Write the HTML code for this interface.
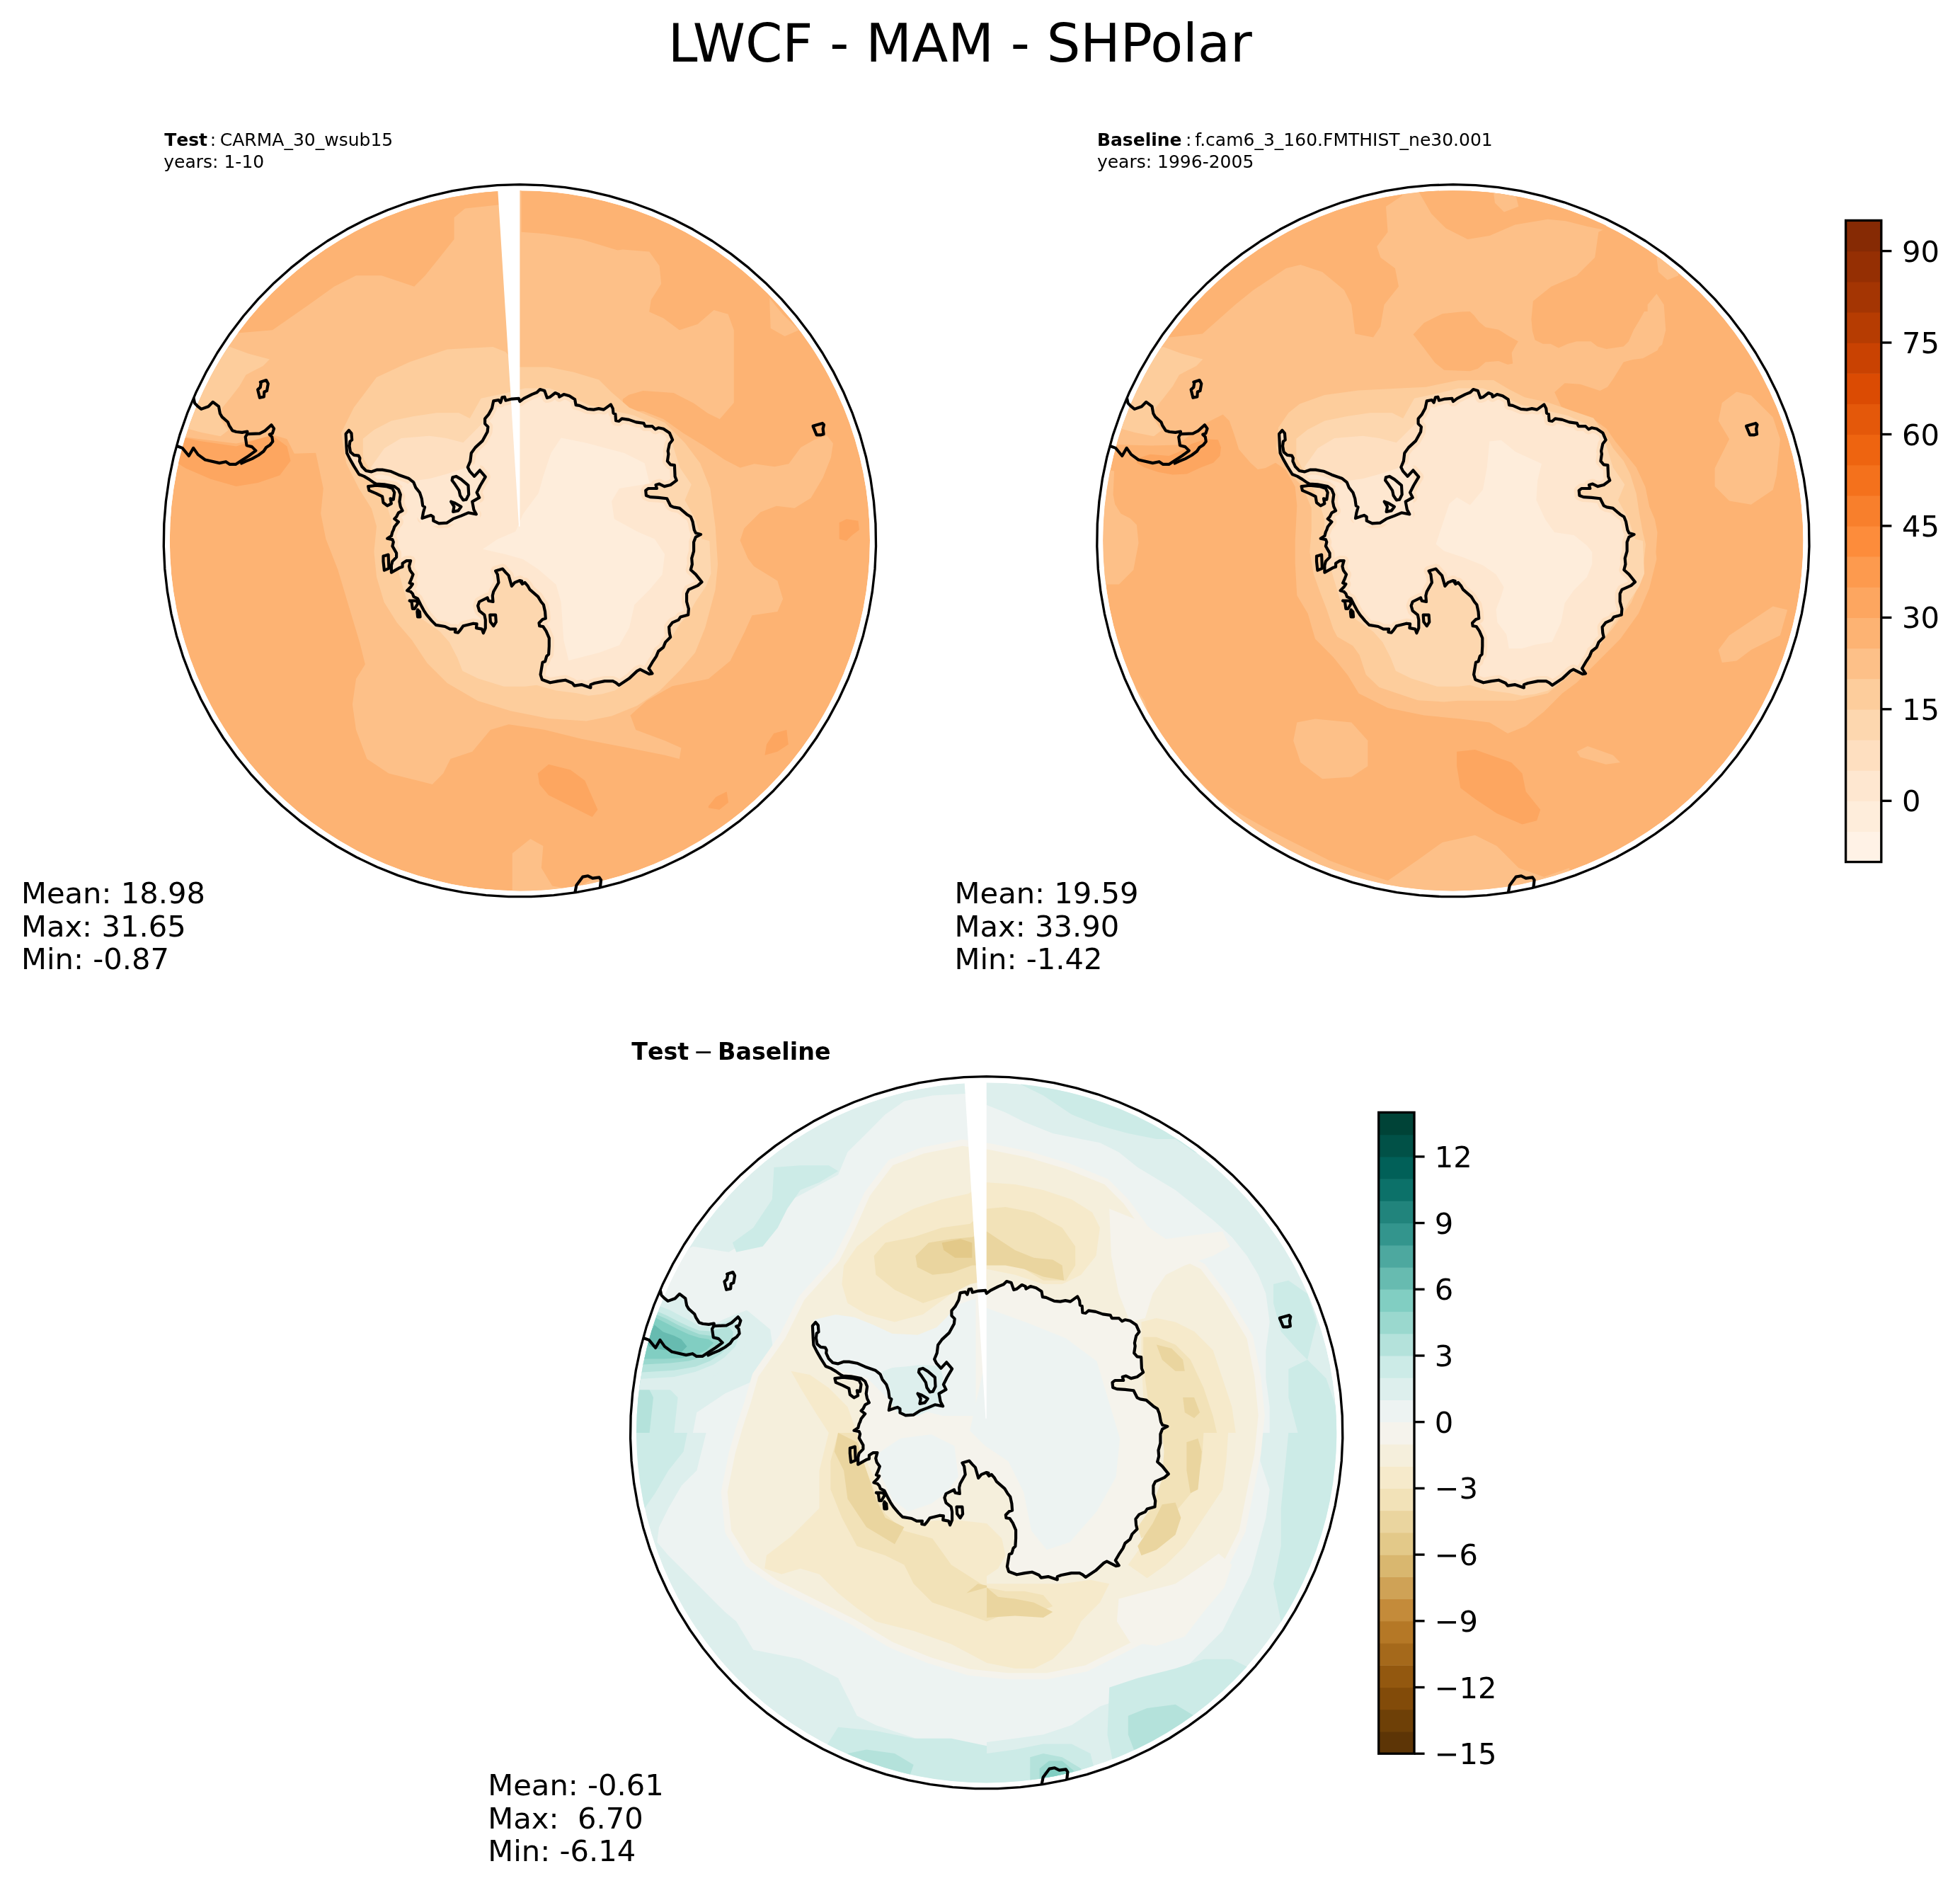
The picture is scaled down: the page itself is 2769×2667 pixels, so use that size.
<!DOCTYPE html>
<html><head><meta charset="utf-8"><title>LWCF - MAM - SHPolar</title>
<style>
html,body{margin:0;padding:0;background:#fff;width:2769px;height:2667px;overflow:hidden}
svg{display:block;will-change:transform}
text{font-family:"DejaVu Sans","Liberation Sans",sans-serif;fill:#000;white-space:pre}
.t18{font-size:75px}
.t10{font-size:41.67px}
.t6{font-size:25px}
.t8{font-size:33.33px}
.b{font-weight:bold}
.nk{font-kerning:none}
</style></head><body>
<svg width="2769" height="2667" viewBox="0 0 2769 2667">
<rect width="100%" height="100%" fill="#fff"/>
<text x="1356.3" y="87" class="t18" text-anchor="middle">LWCF - MAM - SHPolar</text>
<text x="232.2" y="206" class="t6 b nk">Test</text>
<text x="296.7" y="206" class="t6 nk">:</text>
<text x="310.8" y="206" class="t6">CARMA_30_wsub15</text>
<text x="231.3" y="237.1" class="t6">years: 1-10</text>
<text x="1549.9" y="206" class="t6 b nk">Baseline</text>
<text x="1675" y="206" class="t6 nk">:</text>
<text x="1688.2" y="206" class="t6">f.cam6_3_160.FMTHIST_ne30.001</text>
<text x="1549.9" y="237.1" class="t6">years: 1996-2005</text>
<text x="892.2" y="1497.3" class="t8 b nk">Test</text>
<text x="980" y="1497.3" class="t8 nk">−</text>
<text x="1014" y="1497.3" class="t8 b nk">Baseline</text>
<text x="30" y="1275.9" class="t10">Mean: 18.98</text>
<text x="30" y="1322.5" class="t10">Max: 31.65</text>
<text x="30" y="1369" class="t10">Min: -0.87</text>
<text x="1348.6" y="1275.9" class="t10">Mean: 19.59</text>
<text x="1348.6" y="1322.5" class="t10">Max: 33.90</text>
<text x="1348.6" y="1369" class="t10">Min: -1.42</text>
<text x="689.3" y="2535.9" class="t10">Mean: -0.61</text>
<text x="689.3" y="2582.5" class="t10">Max:  6.70</text>
<text x="689.3" y="2629" class="t10">Min: -6.14</text>
<clipPath id="clip1"><circle cx="734.4" cy="763.8" r="494.6"/></clipPath>
<clipPath id="clip1b"><path d="M734.4 260.6 L766.3 261.7 L798.1 264.7 L829.6 269.7 L860.8 276.8 L891.4 285.8 L921.4 296.7 L950.7 309.5 L979 324.1 L1006.4 340.5 L1032.7 358.6 L1057.8 378.4 L1081.6 399.7 L1104 422.4 L1124.9 446.5 L1144.3 471.9 L1161.9 498.5 L1177.9 526.2 L1192.1 554.8 L1204.4 584.2 L1214.9 614.4 L1223.4 645.2 L1229.9 676.4 L1234.4 708 L1237 739.9 L1237.5 771.8 L1236 803.7 L1232.4 835.4 L1226.9 866.8 L1219.4 897.9 L1209.9 928.4 L1198.5 958.2 L1185.2 987.2 L1170.1 1015.4 L1153.3 1042.5 L1134.8 1068.5 L1114.7 1093.3 L1093 1116.7 L1069.9 1138.8 L1045.4 1159.3 L1019.7 1178.2 L992.9 1195.5 L965 1211 L936.1 1224.7 L906.5 1236.6 L876.2 1246.6 L845.2 1254.6 L813.9 1260.6 L782.2 1264.7 L750.4 1266.7 L718.4 1266.7 L686.6 1264.7 L654.9 1260.6 L623.6 1254.6 L592.6 1246.6 L562.3 1236.6 L532.7 1224.7 L503.8 1211 L475.9 1195.5 L449.1 1178.2 L423.4 1159.3 L398.9 1138.8 L375.8 1116.7 L354.1 1093.3 L334 1068.5 L315.5 1042.5 L298.7 1015.4 L283.6 987.2 L270.3 958.2 L258.9 928.4 L249.4 897.9 L241.9 866.8 L236.4 835.4 L232.8 803.7 L231.3 771.8 L231.8 739.9 L234.4 708 L238.9 676.4 L245.4 645.2 L253.9 614.4 L264.4 584.2 L276.7 554.8 L290.9 526.2 L306.9 498.5 L324.5 471.9 L343.9 446.5 L364.8 422.4 L387.2 399.7 L411 378.4 L436.1 358.6 L462.4 340.5 L489.8 324.1 L518.1 309.5 L547.4 296.7 L577.4 285.8 L608 276.8 L639.2 269.7 L670.7 264.7 L702.5 261.7 L734.4 260.6Z"/></clipPath>
<g clip-path="url(#clip1)">
<circle cx="734.4" cy="763.8" r="494.6" fill="#fdb373"/>
<path d="M200.2 615.2 L246.4 615.2 L282.3 620.3 L333.7 626.4 L364.4 620.3 L385 614.1 L405.5 620.3 L415.8 640.8 L446.1 639.8 L456.8 690.1 L453.2 725.5 L460.4 761.4 L477.4 805.1 L492.8 856.4 L508.2 907.7 L515.9 938.5 L503 959 L497.9 995 L503 1030.9 L518.4 1072 L549.2 1092.5 L590.3 1102.8 L610.8 1107.9 L626.2 1092.5 L636.5 1072 L667.3 1061.7 L692.9 1030.9 L718.6 1023.2 L769.9 1030.9 L821.3 1043.7 L888 1056.6 L939.3 1066.8 L959.8 1072 L962.4 1056.6 L939.3 1046.3 L898.2 1030.9 L890.5 1010.4 L913.6 989.8 L949.6 969.3 L1000.9 959 L1031.7 933.4 L1052.2 892.3 L1062.5 869.2 L1098.4 864.1 L1106.1 846.1 L1098.4 820.5 L1065.1 799.9 L1056.8 789.2 L1045.6 763.5 L1051.2 746.6 L1074.3 723.5 L1096.9 714.7 L1122.5 717.8 L1145.6 703.4 L1162.6 674.7 L1173.9 646.5 L1177 626.4 L1168.2 615.2 L1151.3 620.8 L1131.3 632.1 L1114.3 655.2 L1094.3 659.3 L1065.6 655.2 L1045.6 660.8 L1023 649 L994.2 629.5 L965.5 612.1 L937.3 592.1 L908.5 580.8 L879.8 580.8 L879.8 563.8 L888.5 557.7 L908.5 552 L951.6 555.1 L979.9 569.5 L999.9 583.8 L1016.8 592.1 L1036.8 569 L1036.8 518.1 L1036.8 466.3 L1028.6 443.7 L1008.6 438.1 L985.5 458.1 L959.8 466.3 L937.3 449.4 L917.2 440.6 L919.8 423.7 L934.2 401.1 L931.6 375.5 L917.2 355.4 L879.8 352.4 L872.6 353.4 L821.3 338 L769.9 330.3 L736.6 327.7 L736.6 230.2 L200.2 230.2Z" fill="#fdc088"/>
<path d="M323.4 471.4 L385 466.3 L436.3 430.4 L472.2 404.7 L503 389.3 L539 389.3 L585.2 404.7 L600.6 389.3 L621.1 363.7 L641.6 338 L641.6 307.2 L657 294.4 L682.7 291.8 L705.8 289.2 L705.8 230.2 L200.2 230.2 L200.2 471.4Z" fill="#fdb373"/>
<path d="M1087.1 421.1 L1105.6 443.7 L1128.7 466.3 L1108.7 475 L1088.7 463.7Z" fill="#fdc088"/>
<path d="M723.7 1205.4 L749.4 1184.9 L767.4 1195.1 L764.8 1225.9 L780.2 1251.6 L811 1256.7 L846.9 1236.2 L854.6 1267 L723.7 1272.1Z" fill="#fdc088"/>
<path d="M246.4 615.2 L282.3 622.9 L333.7 630.6 L364.4 620.3 L385 615.2 L405.5 630.6 L410.6 651.1 L395.2 671.6 L364.4 681.9 L333.7 687 L297.7 676.7 L261.8 661.3 L246.4 651.1Z" fill="#fda660"/>
<path d="M1185.7 738.3 L1195.9 733.2 L1212.4 735.8 L1213.9 748.6 L1203.6 756.3 L1195.9 764 L1185.7 761.4Z" fill="#fda660"/>
<path d="M759.7 1092.5 L775.1 1079.7 L805.9 1087.4 L826.4 1102.8 L844.4 1143.8 L836.7 1154.1 L816.1 1143.8 L775.1 1123.3 L762.2 1107.9Z" fill="#fda660"/>
<path d="M1083 1051.4 L1093.3 1036 L1111.3 1030.9 L1113.8 1051.4 L1098.4 1061.7 L1080.5 1066.8Z" fill="#fda660"/>
<path d="M1000.9 1138.7 L1011.2 1125.9 L1026.6 1118.2 L1029.1 1133.6 L1016.3 1143.8 L1000.9 1141.3Z" fill="#fda660"/>
<path d="M264.9 605.4 L284.9 611 L311.6 616.2 L322.3 608 L311.6 592.1 L314.1 576.1 L324.9 562.8 L338.3 545.4 L347.5 529.4 L358.3 523.8 L371.6 517.1 L380.9 507.4 L351.6 499.7 L324.9 489.9 L298.2 500.7 L271.5 527.4 L258.2 554.1 L247.4 594.1Z" fill="#fdcd9c"/>
<path d="M482 611.4 L499.9 575.7 L532 532.9 L578.4 511.4 L632 493.6 L696.3 490 L714.1 497.1 L733.8 518.6 L774.9 518.6 L810.6 525.7 L846.3 536.4 L864.1 554.3 L889.1 575.7 L939.1 597.1 L967.7 625.7 L989.1 654.3 L1003.4 690 L1010.6 743.6 L1014.1 797.1 L1010.6 832.9 L996.3 886.4 L982 922.1 L960.6 947.1 L932 975.7 L899.9 997.1 L864.1 1011.4 L828.4 1018.6 L774.9 1015 L721.3 1004.3 L674.9 990 L632 965 L603.4 936.4 L582 904.3 L560.6 879.3 L542.7 850.7 L532 815 L528.4 779.3 L532 743.6 L524.9 718.6 L507 690 L489.1 654.3Z" fill="#fdcd9c"/>
<path d="M512.8 619.8 L528.7 606.9 L552.8 594.6 L584.6 588 L616.5 583.3 L648.3 583.3 L663.7 591 L679.6 562.8 L711.4 556.1 L741.7 548.4 L776.6 548.4 L804.3 559.2 L831.5 572 L864.9 579.7 L896.2 586.9 L924.4 599.8 L949 623.9 L960.3 660.3 L976.8 684.4 L967.5 706.5 L982.4 733.7 L991.6 761.4 L1002.4 764 L1004.5 810.2 L997.3 828.2 L982.4 850.2 L973.2 866.7 L960.3 881.5 L951.1 896.4 L941.9 910.8 L923.4 929.3 L905.4 947.8 L886.9 962.6 L868.5 975.5 L850 980.6 L831.5 982.7 L813.5 979.1 L785.8 975.5 L758.1 967.8 L741.7 969.8 L711.9 969.8 L675.5 958.5 L653.4 947.8 L646.2 929.3 L634.9 907.2 L621.6 892.3 L596.4 874.4 L574.4 846.6 L565.1 815.3 L555.9 782.5 L552.3 764 L552.8 734.2 L543.1 702.4 L526.6 671.6 L512.8 646Z" fill="#fdd7af"/>
<path d="M523.9 660.3 L543 633.3 L566.8 619 L606.6 615.8 L630.4 619 L654.2 625.3 L670.1 609.5 L682.8 596.7 L697.1 582.4 L717.8 574.5 L741.6 568.1 L771.5 565 L771.5 688.9 L678.1 688.9 L598.6 736.6 L574.8 736.6 L566.8 704.8 L551 681Z" fill="#fedfc0"/>
<path d="M492.9 607.9 L496.5 612.1 L497.2 621.4 L494.4 623.6 L493.6 630 L495.1 638.6 L500.1 642.9 L506.5 643.6 L508.4 647.1 L507.9 651.4 L511.5 659.3 L517.2 665 L524.4 666.4 L532.9 663.6 L540.1 663.6 L551.5 665.7 L562.9 670.7 L577.2 675.7 L584.4 681.4 L587.2 688.6 L592.9 695.7 L595.8 704.3 L597.2 714.3 L600.1 716.4 L597.9 724.3 L596.5 732.1 L604.4 729.3 L608.6 727.9 L612.2 730 L612.2 735.7 L620.1 739.3 L631.5 738.6 L640.1 732.9 L651.5 728.6 L661.5 724.3 L672.9 726.4 L669.4 720 L667.2 708.6 L677.2 702.9 L673.6 695.7 L678.6 685.7 L685.8 673.6 L677.9 664.3 L670.1 672.9 L663.6 665.7 L660.8 660 L664.4 651.4 L665.8 640 L671.5 632.1 L681.5 622.9 L688.6 610 L689.4 602.9 L685.1 598.6 L685.1 591.4 L690.1 585.7 L695.1 576.4 L697.2 566.4 L704.4 565 L707.2 568.6 L709.4 561.4 L712.9 560.7 L714.4 565.7 L722.9 563.6 L732.9 562.9 L734.4 567.1 L740.1 562.9 L751.5 557.1 L758.6 554.3 L762.9 550 L769.4 552.1 L772.9 562.1 L777.2 560.7 L784.4 555 L789.4 557.1 L790.1 560.7 L796.5 557.1 L804.4 559.3 L812.2 564.3 L813.6 572.1 L818.6 572.9 L830.1 577.9 L838.6 578.6 L845.8 577.1 L852.9 578.6 L862.9 571.4 L865.8 577.1 L866.5 583.6 L869.4 585 L870.1 594.3 L874.4 595 L878.6 591.4 L888.6 592.9 L898.6 596.4 L909.4 597.9 L911.5 602.1 L921.5 602.1 L925.8 606.4 L930.1 604.3 L937.2 605.7 L945.8 611.4 L950.1 621.4 L945.8 627.1 L943.6 637.1 L944.4 641.4 L942.9 651.4 L947.2 656.4 L952.9 657.1 L953.6 672.9 L955.8 678.6 L947.2 685 L938.6 687.1 L931.5 683.6 L926.5 685 L927.9 690 L915.8 690 L912.2 692.9 L912.9 700 L918.6 702.1 L930.1 702.9 L942.2 704.3 L947.2 714.3 L951.5 716.4 L960.1 717.9 L970.1 726.4 L975.8 730 L978.6 737.1 L980.8 748.6 L982.9 752.9 L990.1 755 L990.1 755 L982.9 758.6 L980.1 765.7 L980.1 778.6 L977.2 788.6 L977.9 797.1 L975.8 805 L982.9 811.4 L991.5 822.1 L985.8 827.1 L972.9 832.9 L970.1 838.6 L970.1 850 L972.9 860 L972.2 868.6 L961.5 871.4 L958.6 875.7 L950.1 879.3 L945.1 885.7 L945.8 894.3 L947.2 900 L940.1 907.1 L937.2 914.3 L930.1 920 L927.2 927.1 L921.5 935.7 L916.5 944.3 L921.5 951.4 L917.2 952.1 L904.4 945.7 L900.1 947.9 L888.6 958.6 L874.4 967.9 L870.1 964.3 L865.8 962.1 L854.4 962.1 L840.1 965 L834.4 967.1 L834.4 971.4 L821.5 967.1 L811.5 968.6 L808.6 965 L798.6 960.7 L788.6 962.1 L777.2 964.3 L765.8 960 L763.6 952.9 L766.5 935.7 L770.1 934.3 L772.2 927.1 L775.1 924.3 L775.8 912.9 L775.8 901.4 L771.5 891.4 L767.2 885 L762.2 884.3 L761.5 880 L766.5 875 L770.8 873.6 L770.1 864.3 L767.9 854.3 L764.4 850 L760.1 842.9 L748.6 832.9 L745.8 827.9 L741.5 822.9 L737.9 825 L734.4 820 L737.2 820.7 L734.4 820 L727.2 822.9 L722.9 827.9 L718.6 812.9 L714.4 808.6 L710.1 803.6 L700.1 806.4 L702.9 811.4 L703.6 817.1 L704.4 822.9 L697.2 835.7 L695.8 841.4 L696.5 850 L690.1 848.6 L688.6 844.3 L677.2 850 L675.1 855.7 L677.2 862.9 L684.4 868.6 L685.8 875.7 L685.8 887.1 L682.9 894.3 L680.8 888.6 L672.9 887.1 L673.6 881.4 L668.6 880.7 L654.4 884.3 L650.8 889.3 L647.2 893.6 L642.9 892.9 L643.6 888.6 L635.8 888.6 L628.6 885 L615.8 882.9 L610.1 877.1 L602.9 868.6 L598.6 862.1 L594.4 854.3 L590.1 845.7 L584.4 842.9 L582.9 838.6 L580.1 835.7 L575.1 834.3 L580.1 829.3 L582.9 825 L578.6 823.6 L581.5 817.1 L583.6 811.4 L579.4 805.7 L577.9 800 L580.1 792.1 L574.4 792.1 L568.6 795.7 L568.6 800.7 L564.4 802.1 L552.9 808.6 L552.9 798.6 L554.4 792.9 L560.1 787.1 L560.1 781.4 L554.4 771.4 L555.8 765.7 L554.4 762.1 L547.2 760.7 L552.9 757.1 L554.4 751.4 L555.8 748.6 L557.2 744.3 L562.9 737.1 L557.2 732.9 L560.1 730 L562.9 724.3 L568.6 721.4 L565.8 715.7 L564.4 708.6 L565.8 698.6 L562.9 691.4 L557.2 687.1 L542.9 684.3 L531.5 683.6 L528.6 682.1 L521.5 677.1 L514.4 672.9 L507.2 670 L500.1 658.6 L494.4 648.6 L490.1 640 L489.4 630 L488.6 612.9 L492.9 607.9Z" fill="#fedfc0"/>
<path d="M527.5 672.8 L532.2 676.1 L533.4 676.7 L543.4 677.3 L544.3 677.4 L558.6 680.3 L559.2 680.4 L559.8 680.6 L560.4 680.9 L560.9 681.2 L561.4 681.5 L567.1 685.8 L567.6 686.2 L568.1 686.7 L568.5 687.2 L568.8 687.7 L569.2 688.2 L569.4 688.8 L572.3 696 L572.5 696.7 L572.7 697.4 L572.8 698.1 L572.8 698.8 L572.7 699.6 L571.5 708.4 L572.5 713.4 L574.9 718.3 L575.2 718.9 L575.4 719.6 L575.5 720.3 L575.6 720.9 L575.6 721.6 L575.6 722.3 L575.5 723 L575.3 723.6 L575 724.3 L574.7 724.9 L574.4 725.5 L573.9 726 L573.5 726.5 L572.9 727 L572.4 727.4 L571.8 727.7 L568.1 729.5 L567.1 731.5 L567.1 731.5 L567.7 732 L568.2 732.5 L568.6 733 L569 733.6 L569.3 734.2 L569.6 734.9 L569.7 735.6 L569.9 736.3 L569.9 737 L569.9 737.7 L569.8 738.4 L569.7 739 L569.4 739.7 L569.2 740.3 L568.8 740.9 L568.4 741.5 L563.5 747.7 L562.4 750.8 L562 751.7 L561 753.9 L559.9 757.9 L560.2 758.3 L560.6 758.9 L560.9 759.5 L562.3 763.1 L562.5 763.8 L562.7 764.5 L562.8 765.2 L562.8 766 L562.7 766.7 L562.6 767.4 L561.8 770.4 L566.1 778 L566.5 778.6 L566.7 779.3 L566.9 780 L567 780.7 L567.1 781.4 L567.1 787.1 L567 787.8 L566.9 788.5 L566.9 788.5 L570.6 786.2 L571.2 785.9 L571.8 785.6 L572.4 785.4 L573.1 785.3 L573.7 785.2 L574.4 785.1 L580.1 785.1 L580.7 785.2 L581.4 785.3 L582.1 785.4 L582.7 785.7 L583.3 785.9 L583.9 786.3 L584.5 786.7 L585 787.1 L585.4 787.6 L585.8 788.2 L586.2 788.7 L586.5 789.3 L586.7 790 L586.9 790.6 L587 791.3 L587.1 792 L587.1 792.7 L587 793.3 L586.8 794 L585.2 800.1 L585.8 802.6 L589.2 807.2 L589.6 807.8 L590 808.4 L590.2 809.1 L590.4 809.7 L590.6 810.4 L590.6 811.1 L590.6 811.8 L590.6 812.5 L590.4 813.2 L590.2 813.9 L588.1 819.6 L587.9 820 L587.9 820 L588 820.1 L588.4 820.7 L588.8 821.2 L589.2 821.8 L589.4 822.4 L589.7 823.1 L589.8 823.7 L589.9 824.4 L589.9 825.1 L589.9 825.7 L589.8 826.4 L589.6 827.1 L589.4 827.7 L589.1 828.3 L588.8 828.9 L586.5 832.3 L587.9 833.6 L588.3 834.1 L588.7 834.6 L589 835.2 L589.3 835.8 L589.6 836.4 L590.1 837.9 L593.2 839.5 L593.8 839.8 L594.3 840.1 L594.8 840.5 L595.2 841 L595.7 841.5 L596 842 L596.3 842.6 L600.6 851 L604.6 858.5 L608.5 864.4 L615.2 872.4 L619.1 876.3 L629.8 878.1 L630.5 878.2 L631.1 878.5 L631.8 878.7 L637.4 881.6 L643.6 881.6 L644.3 881.6 L645 881.7 L645.6 881.9 L646.3 882.1 L646.9 882.4 L647.1 882.5 L648.7 880.2 L649.1 879.7 L649.6 879.2 L650.1 878.7 L650.7 878.3 L651.3 878 L652 877.7 L652.7 877.5 L666.9 873.9 L667.6 873.8 L668.3 873.7 L669 873.7 L669.6 873.8 L674.6 874.5 L675.3 874.6 L676 874.8 L676.6 875.1 L677.2 875.4 L677.8 875.8 L678.3 876.2 L678.8 876.7 L678.8 876.7 L678.8 876.4 L678 872.4 L672.8 868.3 L672.3 867.9 L671.8 867.3 L671.4 866.8 L671 866.2 L670.7 865.5 L670.5 864.9 L668.4 857.7 L668.2 857.1 L668.1 856.5 L668.1 855.8 L668.1 855.2 L668.2 854.5 L668.3 853.9 L668.5 853.3 L670.7 847.5 L670.9 846.9 L671.2 846.4 L671.6 845.8 L672 845.3 L672.5 844.9 L673 844.4 L673.5 844.1 L674.1 843.7 L685.5 838 L686.2 837.7 L686.8 837.5 L687.5 837.4 L688.2 837.3 L688.9 837.3 L689.6 837.4 L690.4 834 L690.6 833.4 L690.8 832.9 L691.1 832.3 L697.1 821.5 L696.7 818 L696.2 813.7 L694 809.9 L693.7 809.3 L693.4 808.6 L693.2 807.9 L693.1 807.2 L693.1 806.5 L693.1 805.8 L693.2 805.1 L693.4 804.5 L693.6 803.8 L693.9 803.2 L694.2 802.5 L694.7 802 L695.1 801.5 L695.7 801 L696.2 800.6 L696.8 800.2 L697.5 799.9 L698.1 799.7 L708.1 796.8 L708.8 796.7 L709.5 796.6 L710.1 796.6 L710.8 796.6 L711.4 796.7 L712.1 796.9 L712.7 797.1 L713.3 797.4 L713.9 797.7 L714.4 798.1 L714.9 798.5 L715.4 799 L719.5 803.8 L723.6 807.9 L724.1 808.4 L724.5 809 L724.8 809.6 L725.1 810.3 L725.4 810.9 L726.7 815.5 L731.8 813.5 L732.4 813.3 L733 813.1 L733.7 813 L734.4 813 L735 813 L735.7 813.1 L736.3 813.3 L737 813.5 L737.6 813.8 L738.1 814.1 L738.7 814.5 L739.2 814.9 L739.6 815.4 L740.1 815.9 L740.1 816 L740.5 815.9 L741.2 815.9 L741.9 815.9 L742.6 815.9 L743.3 816.1 L744 816.3 L744.6 816.6 L745.2 816.9 L745.8 817.3 L746.3 817.8 L746.8 818.3 L751.1 823.3 L751.5 823.8 L751.9 824.4 L754.1 828.4 L764.7 837.6 L765.2 838.1 L765.7 838.7 L766.1 839.3 L770.1 845.9 L773.3 849.8 L773.7 850.3 L774.1 850.9 L774.4 851.5 L774.6 852.2 L774.8 852.8 L776.9 862.8 L777.1 863.7 L777.8 873 L777.8 873.7 L777.7 874.4 L777.6 875 L777.5 875.7 L777.2 876.3 L777 876.9 L776.6 877.4 L776.2 878 L775.8 878.5 L775.3 878.9 L774.8 879.3 L774.2 879.7 L773.6 880 L773 880.2 L772.5 880.4 L772.7 880.6 L773 881.1 L777.3 887.5 L777.7 888.1 L777.9 888.7 L782.2 898.7 L782.5 899.3 L782.6 900 L782.7 900.7 L782.8 901.4 L782.8 912.9 L782.8 913.3 L782.1 924.7 L782 925.4 L781.8 926.1 L781.6 926.8 L781.3 927.5 L780.9 928.1 L780.5 928.7 L780 929.2 L778.4 930.8 L776.8 936.3 L776.5 937 L776.2 937.6 L775.9 938.2 L775.5 938.7 L775 939.3 L774.5 939.7 L773.9 940.1 L773.3 940.5 L772.8 940.7 L770.8 952.4 L771.5 954.7 L777.8 957 L787.4 955.3 L787.7 955.2 L797.7 953.8 L798.3 953.7 L798.9 953.7 L799.6 953.8 L800.2 953.9 L800.8 954.1 L801.4 954.3 L811.4 958.6 L812 958.9 L812.6 959.2 L813.2 959.6 L813.7 960.1 L814.1 960.6 L814.5 961.1 L820.5 960.2 L821.2 960.2 L821.8 960.1 L822.5 960.2 L823.1 960.3 L823.7 960.5 L829.3 962.4 L829.5 962.1 L830.1 961.6 L830.6 961.2 L831.3 960.9 L831.9 960.6 L837.6 958.4 L838.1 958.3 L838.7 958.1 L853 955.3 L853.7 955.2 L854.4 955.1 L865.8 955.1 L866.4 955.2 L867.1 955.3 L867.7 955.4 L868.3 955.6 L868.9 955.9 L873.2 958 L873.9 958.4 L874.6 958.9 L874.9 959.2 L884.3 953 L895.3 942.8 L895.8 942.3 L896.4 941.9 L896.9 941.6 L901.2 939.5 L901.9 939.2 L902.6 938.9 L903.3 938.8 L904 938.7 L904.7 938.7 L905.4 938.8 L906.1 938.9 L906.8 939.2 L907.5 939.5 L910.4 940.9 L910.5 940.8 L915.5 932.2 L915.7 931.8 L921 923.9 L923.6 917.4 L923.9 916.7 L924.2 916.1 L924.7 915.5 L925.2 915 L925.7 914.5 L931.4 910 L933.6 904.5 L933.9 903.9 L934.2 903.3 L934.6 902.7 L935.1 902.2 L939.5 897.9 L939 896 L938.9 895.4 L938.8 894.9 L938.1 886.3 L938.1 885.6 L938.1 885 L938.2 884.4 L938.4 883.7 L938.6 883.1 L938.8 882.5 L939.2 881.9 L939.5 881.4 L944.5 875 L945 874.4 L945.5 873.9 L946.1 873.5 L946.7 873.1 L947.4 872.8 L954 870.1 L955.7 867.5 L956.1 867 L956.6 866.4 L957.1 866 L957.7 865.5 L958.3 865.2 L959 864.9 L959.7 864.7 L965.6 863.1 L965.8 860.7 L963.3 851.9 L963.2 851.3 L963.1 850.6 L963.1 850 L963.1 838.6 L963.1 837.9 L963.2 837.3 L963.3 836.6 L963.5 836 L963.8 835.4 L966.7 829.7 L967 829.1 L967.4 828.6 L967.8 828 L968.3 827.6 L968.9 827.1 L969.5 826.8 L970.1 826.5 L981.8 821.2 L977.8 816.2 L971.1 810.2 L970.6 809.7 L970.2 809.2 L969.8 808.6 L969.4 808 L969.2 807.3 L969 806.6 L968.8 805.9 L968.8 805.2 L968.8 804.5 L968.9 803.8 L969 803.2 L970.9 796.5 L970.2 789.2 L970.2 788.5 L970.2 787.9 L970.3 787.3 L970.5 786.6 L973.1 777.6 L973.1 765.7 L973.1 765 L973.2 764.4 L973.4 763.7 L973.6 763.1 L976.4 756 L976.5 755.7 L974.5 751.7 L974.3 751.1 L974.1 750.5 L973.9 749.9 L971.9 739.1 L970.1 734.7 L966.4 732.4 L965.9 732.1 L965.5 731.7 L957 724.4 L950.3 723.3 L949.7 723.2 L949 723 L948.4 722.7 L944.1 720.5 L943.5 720.2 L943 719.9 L942.5 719.5 L942 719 L941.6 718.5 L941.3 718 L941 717.4 L937.6 710.8 L929.4 709.8 L918.2 709.1 L917.5 709.1 L916.8 708.9 L916.2 708.7 L910.5 706.6 L909.8 706.3 L909.2 705.9 L908.6 705.5 L908.1 705.1 L907.6 704.5 L907.2 704 L906.8 703.4 L906.5 702.7 L906.2 702.1 L906.1 701.4 L906 700.7 L905.2 693.6 L905.2 692.9 L905.2 692.2 L905.4 691.5 L905.5 690.8 L905.8 690.1 L906.1 689.5 L906.4 688.9 L906.8 688.4 L907.3 687.9 L907.8 687.4 L911.4 684.5 L912 684.1 L912.5 683.8 L913.2 683.5 L913.8 683.3 L914.4 683.1 L915.1 683 L915.8 683 L919.8 683 L919.8 682.9 L920.1 682.2 L920.4 681.6 L920.7 681 L921.2 680.5 L921.6 680 L922.1 679.5 L922.7 679.1 L923.3 678.8 L923.9 678.5 L924.6 678.3 L929.6 676.8 L930.2 676.7 L930.9 676.6 L931.5 676.6 L932.1 676.6 L932.8 676.7 L933.4 676.8 L934 677 L934.6 677.3 L939.5 679.7 L944.1 678.6 L947.4 676.1 L947.1 675.3 L946.9 674.6 L946.7 673.9 L946.7 673.2 L946.2 663.3 L945.7 663.3 L945.1 663.1 L944.5 662.9 L943.9 662.6 L943.3 662.3 L942.8 661.9 L942.3 661.5 L941.9 661 L937.6 656 L937.2 655.5 L936.9 654.9 L936.6 654.3 L936.3 653.7 L936.1 653.1 L936 652.4 L935.9 651.8 L935.9 651.1 L936 650.4 L937.3 641.5 L936.7 638.3 L936.7 637.6 L936.6 637 L936.7 636.3 L936.8 635.7 L938.9 625.7 L939.1 624.9 L939.4 624.2 L939.8 623.6 L940.2 622.9 L942 620.5 L940.2 616.1 L934.5 612.3 L931.1 611.6 L928.9 612.7 L928.3 613 L927.7 613.2 L927 613.3 L926.3 613.4 L925.7 613.4 L925 613.4 L924.3 613.3 L923.7 613.1 L923.1 612.9 L922.4 612.6 L921.9 612.2 L921.3 611.8 L920.8 611.4 L918.6 609.1 L911.5 609.1 L910.8 609.1 L910.1 609 L909.4 608.8 L908.8 608.6 L908.1 608.3 L907.5 607.9 L907 607.5 L906.5 607 L906 606.5 L905.6 605.9 L905.2 605.3 L904.8 604.3 L897.7 603.4 L897 603.2 L896.3 603 L887 599.7 L880.7 598.8 L878.8 600.4 L878.3 600.8 L877.7 601.1 L877.1 601.4 L876.5 601.7 L875.9 601.8 L875.2 601.9 L874.5 602 L873.9 602 L873.2 601.9 L868.9 601.2 L868.3 601.1 L867.6 600.8 L867 600.6 L866.4 600.3 L865.9 599.9 L865.4 599.5 L864.9 599 L864.5 598.5 L864.1 598 L863.8 597.4 L863.5 596.8 L863.3 596.1 L863.2 595.5 L863.1 594.8 L862.7 589.4 L862.2 589.1 L861.7 588.6 L861.2 588.1 L860.8 587.6 L860.4 587 L860.1 586.4 L859.8 585.7 L859.7 585 L859.5 584.3 L859.3 582.6 L857 584.3 L856.4 584.7 L855.8 585 L855.1 585.2 L854.4 585.4 L853.7 585.5 L853 585.6 L852.3 585.5 L851.6 585.4 L845.8 584.3 L840 585.4 L839.4 585.5 L838.7 585.6 L838.1 585.5 L829.5 584.8 L828.7 584.7 L828 584.5 L827.3 584.3 L816.7 579.7 L812.7 579.1 L812 578.9 L811.3 578.8 L810.7 578.5 L810.1 578.2 L809.6 577.8 L809 577.4 L808.6 576.9 L808.1 576.4 L807.7 575.9 L807.4 575.3 L807.1 574.7 L806.9 574 L806.8 573.4 L805.9 568.5 L801.5 565.8 L797.4 564.6 L793.5 566.8 L792.8 567.1 L792.2 567.4 L791.5 567.6 L790.8 567.7 L790.2 567.7 L789.5 567.7 L788.8 567.6 L788.1 567.4 L787.5 567.2 L786.8 566.9 L786.2 566.6 L785.7 566.2 L785.2 565.7 L784.7 565.2 L784.3 564.6 L784 564.2 L781.6 566.2 L781.1 566.5 L780.6 566.9 L780 567.1 L779.4 567.4 L775.1 568.8 L774.5 569 L773.8 569.1 L773.1 569.1 L772.5 569.1 L771.8 569.1 L771.1 568.9 L770.5 568.7 L769.9 568.4 L769.3 568.1 L768.7 567.7 L768.2 567.3 L767.7 566.8 L767.3 566.3 L766.9 565.7 L766.6 565.1 L766.3 564.5 L764.2 558.6 L763.6 559.2 L763.1 559.7 L762.5 560.1 L761.9 560.5 L761.2 560.8 L754.4 563.5 L743.8 568.8 L738.6 572.7 L738 573.1 L737.4 573.5 L736.7 573.7 L736.1 573.9 L735.4 574.1 L734.7 574.1 L734 574.1 L733.3 574.1 L732.6 573.9 L731.9 573.7 L731.3 573.4 L730.7 573.1 L730.1 572.7 L729.6 572.3 L729.1 571.8 L728.7 571.2 L728.3 570.6 L728.1 570.2 L724 570.5 L716.1 572.5 L715.4 572.6 L714.7 572.7 L714.1 572.7 L713.4 572.6 L713 572.6 L712.6 573 L712.2 573.5 L711.6 574 L711.1 574.4 L710.5 574.8 L709.9 575 L709.2 575.3 L708.5 575.4 L707.9 575.5 L707.2 575.6 L706.5 575.5 L705.8 575.4 L705.1 575.3 L704.5 575 L703.9 574.7 L703.3 574.4 L702.8 574 L701.9 577.9 L701.7 578.5 L701.5 579.2 L701.2 579.7 L696.2 589 L695.8 589.7 L695.3 590.3 L692.1 594.1 L692.1 595.7 L694.3 597.9 L694.8 598.4 L695.2 599 L695.5 599.6 L695.8 600.2 L696.1 600.8 L696.2 601.5 L696.3 602.2 L696.4 602.9 L696.3 603.6 L695.6 610.7 L695.5 611.4 L695.3 612.1 L695.1 612.8 L694.8 613.4 L687.6 626.3 L687.2 626.9 L686.8 627.5 L686.3 628 L676.8 636.8 L672.5 642.7 L671.3 652.3 L671.2 652.9 L671 653.5 L670.8 654.1 L668.5 659.7 L669.5 661.7 L670.1 662.4 L672.8 659.6 L673.3 659.1 L673.8 658.6 L674.4 658.2 L675 657.9 L675.7 657.7 L676.3 657.5 L677 657.3 L677.7 657.3 L678.4 657.3 L679.1 657.4 L679.8 657.5 L680.5 657.8 L681.1 658 L681.7 658.4 L682.3 658.8 L682.8 659.3 L683.3 659.8 L691.1 669 L691.5 669.6 L691.9 670.1 L692.2 670.7 L692.4 671.4 L692.6 672 L692.7 672.6 L692.8 673.3 L692.8 674 L692.7 674.6 L692.6 675.3 L692.4 675.9 L692.1 676.5 L691.8 677.1 L684.8 689.1 L681.5 695.7 L683.5 699.7 L683.8 700.4 L684 701 L684.1 701.7 L684.2 702.4 L684.2 703.1 L684.1 703.9 L684 704.5 L683.8 705.2 L683.5 705.9 L683.2 706.5 L682.8 707.1 L682.3 707.6 L681.8 708.1 L681.3 708.6 L680.7 708.9 L675 712.2 L676 717.6 L679 723 L679.4 723.6 L679.6 724.3 L679.8 725 L679.9 725.6 L679.9 726.3 L679.9 727 L679.8 727.7 L679.7 728.4 L679.4 729 L679.1 729.6 L678.8 730.2 L678.4 730.8 L677.9 731.3 L677.4 731.8 L676.9 732.2 L676.3 732.6 L675.7 732.9 L675 733.1 L674.4 733.3 L673.7 733.4 L673 733.4 L672.3 733.4 L671.6 733.3 L662.3 731.6 L654.3 735 L654 735.1 L643.3 739.1 L635.4 744.4 L634.8 744.8 L634.1 745.1 L633.4 745.3 L632.7 745.5 L631.9 745.6 L620.5 746.3 L619.8 746.3 L619.1 746.2 L618.5 746.1 L617.8 745.9 L617.2 745.7 L609.3 742.1 L608.7 741.8 L608.2 741.4 L607.6 741 L607.2 740.6 L606.7 740 L606.3 739.5 L606 738.9 L605.7 738.3 L605.5 737.7 L605.3 737 L605.3 736.4 L598.9 738.7 L598.2 738.9 L597.5 739.1 L596.8 739.1 L596.1 739.1 L595.4 739.1 L594.8 738.9 L594.1 738.7 L593.4 738.4 L592.8 738.1 L592.3 737.7 L591.7 737.3 L591.2 736.8 L590.8 736.2 L590.4 735.6 L590.1 735 L589.9 734.3 L589.7 733.7 L589.6 733 L589.5 732.3 L589.5 731.6 L589.6 730.9 L591 723 L591.2 722.4 L592.1 719.1 L592 719 L591.6 718.4 L591.2 717.9 L590.9 717.2 L590.6 716.6 L590.4 716 L590.3 715.3 L588.9 705.9 L586.7 699.1 L581.7 692.9 L581.3 692.4 L581 691.8 L580.7 691.2 L578.5 685.7 L573.8 681.9 L560.6 677.3 L560.1 677.1 L549.4 672.4 L539.4 670.6 L534.1 670.6 L527.5 672.8Z" fill="#fee7d0"/>
<path d="M561.7 795.5 L561.2 795.9 L561.5 795.7 L561.6 795.7 L561.7 795.5Z" fill="#fee7d0"/>
<path d="M566.8 688.9 L582.7 679.4 L606.6 676.2 L630.4 669.8 L654.2 661.9 L670.1 655.5 L678.1 657.1 L678.1 736.6 L598.6 744.5 L582.7 720.7Z" fill="#fee7d0"/>
<path d="M792.7 618.6 L828.4 625.7 L882 640 L910.6 654.3 L917.7 682.9 L874.9 690 L864.1 707.9 L867.7 732.9 L899.9 750.7 L924.9 761.4 L939.1 782.9 L935.6 811.4 L917.7 832.9 L896.3 854.3 L889.1 886.4 L874.9 911.4 L846.3 922.1 L803.4 932.9 L796.3 904.3 L792.7 850.7 L785.6 825.7 L760.6 804.3 L739.1 790 L714.1 782.9 L682 775.7 L703.4 761.4 L728.4 750.7 L739.1 725.7 L760.6 697.1 L767.7 672.1 L778.4 640Z" fill="#feeddb"/>
</g>
<path d="M734.4 743.8 L734.4 264.8 L703.1 265.8 L733.1 743.8Z" fill="#fff"/>
<path d="M492.9 607.9 L496.5 612.1 L497.2 621.4 L494.4 623.6 L493.6 630 L495.1 638.6 L500.1 642.9 L506.5 643.6 L508.4 647.1 L507.9 651.4 L511.5 659.3 L517.2 665 L524.4 666.4 L532.9 663.6 L540.1 663.6 L551.5 665.7 L562.9 670.7 L577.2 675.7 L584.4 681.4 L587.2 688.6 L592.9 695.7 L595.8 704.3 L597.2 714.3 L600.1 716.4 L597.9 724.3 L596.5 732.1 L604.4 729.3 L608.6 727.9 L612.2 730 L612.2 735.7 L620.1 739.3 L631.5 738.6 L640.1 732.9 L651.5 728.6 L661.5 724.3 L672.9 726.4 L669.4 720 L667.2 708.6 L677.2 702.9 L673.6 695.7 L678.6 685.7 L685.8 673.6 L677.9 664.3 L670.1 672.9 L663.6 665.7 L660.8 660 L664.4 651.4 L665.8 640 L671.5 632.1 L681.5 622.9 L688.6 610 L689.4 602.9 L685.1 598.6 L685.1 591.4 L690.1 585.7 L695.1 576.4 L697.2 566.4 L704.4 565 L707.2 568.6 L709.4 561.4 L712.9 560.7 L714.4 565.7 L722.9 563.6 L732.9 562.9 L734.4 567.1 L740.1 562.9 L751.5 557.1 L758.6 554.3 L762.9 550 L769.4 552.1 L772.9 562.1 L777.2 560.7 L784.4 555 L789.4 557.1 L790.1 560.7 L796.5 557.1 L804.4 559.3 L812.2 564.3 L813.6 572.1 L818.6 572.9 L830.1 577.9 L838.6 578.6 L845.8 577.1 L852.9 578.6 L862.9 571.4 L865.8 577.1 L866.5 583.6 L869.4 585 L870.1 594.3 L874.4 595 L878.6 591.4 L888.6 592.9 L898.6 596.4 L909.4 597.9 L911.5 602.1 L921.5 602.1 L925.8 606.4 L930.1 604.3 L937.2 605.7 L945.8 611.4 L950.1 621.4 L945.8 627.1 L943.6 637.1 L944.4 641.4 L942.9 651.4 L947.2 656.4 L952.9 657.1 L953.6 672.9 L955.8 678.6 L947.2 685 L938.6 687.1 L931.5 683.6 L926.5 685 L927.9 690 L915.8 690 L912.2 692.9 L912.9 700 L918.6 702.1 L930.1 702.9 L942.2 704.3 L947.2 714.3 L951.5 716.4 L960.1 717.9 L970.1 726.4 L975.8 730 L978.6 737.1 L980.8 748.6 L982.9 752.9 L990.1 755 L990.1 755 L982.9 758.6 L980.1 765.7 L980.1 778.6 L977.2 788.6 L977.9 797.1 L975.8 805 L982.9 811.4 L991.5 822.1 L985.8 827.1 L972.9 832.9 L970.1 838.6 L970.1 850 L972.9 860 L972.2 868.6 L961.5 871.4 L958.6 875.7 L950.1 879.3 L945.1 885.7 L945.8 894.3 L947.2 900 L940.1 907.1 L937.2 914.3 L930.1 920 L927.2 927.1 L921.5 935.7 L916.5 944.3 L921.5 951.4 L917.2 952.1 L904.4 945.7 L900.1 947.9 L888.6 958.6 L874.4 967.9 L870.1 964.3 L865.8 962.1 L854.4 962.1 L840.1 965 L834.4 967.1 L834.4 971.4 L821.5 967.1 L811.5 968.6 L808.6 965 L798.6 960.7 L788.6 962.1 L777.2 964.3 L765.8 960 L763.6 952.9 L766.5 935.7 L770.1 934.3 L772.2 927.1 L775.1 924.3 L775.8 912.9 L775.8 901.4 L771.5 891.4 L767.2 885 L762.2 884.3 L761.5 880 L766.5 875 L770.8 873.6 L770.1 864.3 L767.9 854.3 L764.4 850 L760.1 842.9 L748.6 832.9 L745.8 827.9 L741.5 822.9 L737.9 825 L734.4 820 L737.2 820.7 L734.4 820 L727.2 822.9 L722.9 827.9 L718.6 812.9 L714.4 808.6 L710.1 803.6 L700.1 806.4 L702.9 811.4 L703.6 817.1 L704.4 822.9 L697.2 835.7 L695.8 841.4 L696.5 850 L690.1 848.6 L688.6 844.3 L677.2 850 L675.1 855.7 L677.2 862.9 L684.4 868.6 L685.8 875.7 L685.8 887.1 L682.9 894.3 L680.8 888.6 L672.9 887.1 L673.6 881.4 L668.6 880.7 L654.4 884.3 L650.8 889.3 L647.2 893.6 L642.9 892.9 L643.6 888.6 L635.8 888.6 L628.6 885 L615.8 882.9 L610.1 877.1 L602.9 868.6 L598.6 862.1 L594.4 854.3 L590.1 845.7 L584.4 842.9 L582.9 838.6 L580.1 835.7 L575.1 834.3 L580.1 829.3 L582.9 825 L578.6 823.6 L581.5 817.1 L583.6 811.4 L579.4 805.7 L577.9 800 L580.1 792.1 L574.4 792.1 L568.6 795.7 L568.6 800.7 L564.4 802.1 L552.9 808.6 L552.9 798.6 L554.4 792.9 L560.1 787.1 L560.1 781.4 L554.4 771.4 L555.8 765.7 L554.4 762.1 L547.2 760.7 L552.9 757.1 L554.4 751.4 L555.8 748.6 L557.2 744.3 L562.9 737.1 L557.2 732.9 L560.1 730 L562.9 724.3 L568.6 721.4 L565.8 715.7 L564.4 708.6 L565.8 698.6 L562.9 691.4 L557.2 687.1 L542.9 684.3 L531.5 683.6 L528.6 682.1 L521.5 677.1 L514.4 672.9 L507.2 670 L500.1 658.6 L494.4 648.6 L490.1 640 L489.4 630 L488.6 612.9 L492.9 607.9" fill="none" stroke="#000" stroke-width="4.17" stroke-linejoin="round" stroke-linecap="round" clip-path="url(#clip1b)"/>
<path d="M520.1 687.1 L521.5 692.9 L531.5 697.1 L540.1 701.4 L541.5 710 L547.2 714.3 L552.9 711.4 L551.5 704.3 L555.8 705.7 L557.2 695.7 L554.4 690 L545.8 687.1 L531.5 685.7 L520.1 687.1" fill="none" stroke="#000" stroke-width="4.17" stroke-linejoin="round" stroke-linecap="round" clip-path="url(#clip1b)"/>
<path d="M639.4 674.3 L644.4 672.9 L651.5 677.1 L661.5 685.7 L662.2 698.6 L658.6 705.7 L654.4 706.4 L650.1 700 L648.6 692.9 L642.9 684.3 L638.6 678.6 L639.4 674.3" fill="none" stroke="#000" stroke-width="4.17" stroke-linejoin="round" stroke-linecap="round" clip-path="url(#clip1b)"/>
<path d="M637.2 708.6 L642.9 710.7 L651.5 715.7 L647.2 721.4 L640.1 722.9 L641.5 715.7 L637.2 708.6" fill="none" stroke="#000" stroke-width="4.17" stroke-linejoin="round" stroke-linecap="round" clip-path="url(#clip1b)"/>
<path d="M541.5 785.7 L548.6 783.6 L549.4 802.9 L542.9 805.7 L541.5 792.9 L541.5 785.7" fill="none" stroke="#000" stroke-width="4.17" stroke-linejoin="round" stroke-linecap="round" clip-path="url(#clip1b)"/>
<path d="M578.6 848.6 L588.6 848.6 L590.1 852.9 L585.8 860 L582.9 860 L581.5 850 L578.6 848.6" fill="none" stroke="#000" stroke-width="4.17" stroke-linejoin="round" stroke-linecap="round" clip-path="url(#clip1b)"/>
<path d="M590.1 861.4 L592.9 864.3 L593.6 871.4 L590.1 871.4 L589.4 864.3 L590.1 861.4" fill="none" stroke="#000" stroke-width="4.17" stroke-linejoin="round" stroke-linecap="round" clip-path="url(#clip1b)"/>
<path d="M692.2 868.6 L700.1 868.6 L700.8 878.6 L697.2 884.3 L692.9 878.6 L692.2 868.6" fill="none" stroke="#000" stroke-width="4.17" stroke-linejoin="round" stroke-linecap="round" clip-path="url(#clip1b)"/>
<path d="M269.6 554.9 L273.7 563.2 L275.1 569.6 L278.7 573.3 L284.3 577.9 L294.4 574.2 L300.8 567.8 L309 574.2 L310.9 584.3 L313.6 588.9 L321.9 596.2 L323.7 600.8 L328.3 608.2 L333.8 610 L342.1 610.9 L349.4 609.5 L349 613.2 L366.9 612.3 L374.2 608.6 L383.4 600.3 L387.1 605.4 L384.8 612.3 L380.7 613.7 L384.3 617.3 L385.3 623.8 L381.6 628.4 L376.1 632 L372.4 637.5 L365.1 643 L355.9 648.1 L346.7 651.8 L341.2 654.5" fill="none" stroke="#000" stroke-width="4.17" stroke-linejoin="round" stroke-linecap="round" clip-path="url(#clip1b)"/>
<path d="M245.7 628.4 L250.3 630.2 L257.6 632.9 L266.8 644 L273.2 632.9 L279.7 642.1 L289.8 649.5 L310 654.1 L319.1 652.2 L324.7 655.9 L332.9 655.9 L341.2 650.4 L351.3 644 L361.4 636.6 L355.9 631.1 L348.5 629.3 L346.7 617.3 L349.4 612.7" fill="none" stroke="#000" stroke-width="4.17" stroke-linejoin="round" stroke-linecap="round" clip-path="url(#clip1b)"/>
<path d="M367.8 539.7 L376.1 537 L378.8 542 L377 552.1 L373.3 553.5 L372.9 560.4 L366.9 561.8 L364.1 550.3 L367.8 547.1 L368.7 541.1 L367.8 539.7" fill="none" stroke="#000" stroke-width="4.17" stroke-linejoin="round" stroke-linecap="round" clip-path="url(#clip1b)"/>
<path d="M1148.6 601.8 L1161.9 597.9 L1164 600 L1162.6 605.7 L1163.6 613.2 L1160.1 614.3 L1153.6 614.3 L1148.6 602.1" fill="none" stroke="#000" stroke-width="4.17" stroke-linejoin="round" stroke-linecap="round" clip-path="url(#clip1b)"/>
<path d="M811.1 1266.7 L812.3 1261 L814.4 1250.4 L823.3 1238.6 L830.7 1237.3 L837.2 1240.6 L846.6 1239.4 L849.1 1243.1 L847.8 1254.5 L847.4 1261" fill="none" stroke="#000" stroke-width="4.17" stroke-linejoin="round" stroke-linecap="round" clip-path="url(#clip1b)"/>
<path d="M734.4 260.6 L766.3 261.7 L798.1 264.7 L829.6 269.7 L860.8 276.8 L891.4 285.8 L921.4 296.7 L950.7 309.5 L979 324.1 L1006.4 340.5 L1032.7 358.6 L1057.8 378.4 L1081.6 399.7 L1104 422.4 L1124.9 446.5 L1144.3 471.9 L1161.9 498.5 L1177.9 526.2 L1192.1 554.8 L1204.4 584.2 L1214.9 614.4 L1223.4 645.2 L1229.9 676.4 L1234.4 708 L1237 739.9 L1237.5 771.8 L1236 803.7 L1232.4 835.4 L1226.9 866.8 L1219.4 897.9 L1209.9 928.4 L1198.5 958.2 L1185.2 987.2 L1170.1 1015.4 L1153.3 1042.5 L1134.8 1068.5 L1114.7 1093.3 L1093 1116.7 L1069.9 1138.8 L1045.4 1159.3 L1019.7 1178.2 L992.9 1195.5 L965 1211 L936.1 1224.7 L906.5 1236.6 L876.2 1246.6 L845.2 1254.6 L813.9 1260.6 L782.2 1264.7 L750.4 1266.7 L718.4 1266.7 L686.6 1264.7 L654.9 1260.6 L623.6 1254.6 L592.6 1246.6 L562.3 1236.6 L532.7 1224.7 L503.8 1211 L475.9 1195.5 L449.1 1178.2 L423.4 1159.3 L398.9 1138.8 L375.8 1116.7 L354.1 1093.3 L334 1068.5 L315.5 1042.5 L298.7 1015.4 L283.6 987.2 L270.3 958.2 L258.9 928.4 L249.4 897.9 L241.9 866.8 L236.4 835.4 L232.8 803.7 L231.3 771.8 L231.8 739.9 L234.4 708 L238.9 676.4 L245.4 645.2 L253.9 614.4 L264.4 584.2 L276.7 554.8 L290.9 526.2 L306.9 498.5 L324.5 471.9 L343.9 446.5 L364.8 422.4 L387.2 399.7 L411 378.4 L436.1 358.6 L462.4 340.5 L489.8 324.1 L518.1 309.5 L547.4 296.7 L577.4 285.8 L608 276.8 L639.2 269.7 L670.7 264.7 L702.5 261.7 L734.4 260.6Z" fill="none" stroke="#000" stroke-width="3.33" stroke-linejoin="round"/>
<clipPath id="clip2"><circle cx="2052.9" cy="763.8" r="494.6"/></clipPath>
<clipPath id="clip2b"><path d="M2052.9 260.6 L2084.8 261.7 L2116.6 264.7 L2148.1 269.7 L2179.3 276.8 L2209.9 285.8 L2239.9 296.7 L2269.2 309.5 L2297.5 324.1 L2324.9 340.5 L2351.2 358.6 L2376.3 378.4 L2400.1 399.7 L2422.5 422.4 L2443.4 446.5 L2462.8 471.9 L2480.4 498.5 L2496.4 526.2 L2510.6 554.8 L2522.9 584.2 L2533.4 614.4 L2541.9 645.2 L2548.4 676.4 L2552.9 708 L2555.5 739.9 L2556 771.8 L2554.5 803.7 L2550.9 835.4 L2545.4 866.8 L2537.9 897.9 L2528.4 928.4 L2517 958.2 L2503.7 987.2 L2488.6 1015.4 L2471.8 1042.5 L2453.3 1068.5 L2433.2 1093.3 L2411.5 1116.7 L2388.4 1138.8 L2363.9 1159.3 L2338.2 1178.2 L2311.4 1195.5 L2283.5 1211 L2254.6 1224.7 L2225 1236.6 L2194.7 1246.6 L2163.7 1254.6 L2132.4 1260.6 L2100.7 1264.7 L2068.9 1266.7 L2036.9 1266.7 L2005.1 1264.7 L1973.4 1260.6 L1942.1 1254.6 L1911.1 1246.6 L1880.8 1236.6 L1851.2 1224.7 L1822.3 1211 L1794.4 1195.5 L1767.6 1178.2 L1741.9 1159.3 L1717.4 1138.8 L1694.3 1116.7 L1672.6 1093.3 L1652.5 1068.5 L1634 1042.5 L1617.2 1015.4 L1602.1 987.2 L1588.8 958.2 L1577.4 928.4 L1567.9 897.9 L1560.4 866.8 L1554.9 835.4 L1551.3 803.7 L1549.8 771.8 L1550.3 739.9 L1552.9 708 L1557.4 676.4 L1563.9 645.2 L1572.4 614.4 L1582.9 584.2 L1595.2 554.8 L1609.4 526.2 L1625.4 498.5 L1643 471.9 L1662.4 446.5 L1683.3 422.4 L1705.7 399.7 L1729.5 378.4 L1754.6 358.6 L1780.9 340.5 L1808.3 324.1 L1836.6 309.5 L1865.9 296.7 L1895.9 285.8 L1926.5 276.8 L1957.7 269.7 L1989.2 264.7 L2021 261.7 L2052.9 260.6Z"/></clipPath>
<g clip-path="url(#clip2)">
<circle cx="2052.9" cy="763.8" r="494.6" fill="#fdb373"/>
<path d="M1519.2 628 L1576.7 628 L1627 629.5 L1662.9 628.5 L1703.5 597.7 L1727.6 585.4 L1736.8 594.6 L1743.5 613.6 L1750.2 634.7 L1766.6 653.7 L1776.9 662.9 L1787.6 661.3 L1802 653.7 L1816.4 663.4 L1829.7 687.5 L1832.3 714.2 L1829.7 764 L1829.7 794.8 L1832.3 841 L1847.7 866.7 L1858 902.6 L1883.6 928.2 L1904.2 953.9 L1919.6 979.6 L1960.6 1000.1 L2011.9 1010.4 L2063.3 1015.5 L2104.3 1020.6 L2130 1036 L2155.7 1025.8 L2181.3 1005.2 L2207 979.6 L2227.5 964.2 L2258.3 933.4 L2289.1 902.6 L2314.8 866.7 L2330.2 830.7 L2340.4 789.7 L2339.4 779.9 L2341.5 752.2 L2337.9 733.7 L2330.2 715.8 L2324.5 688 L2311.7 660.3 L2297.3 642.4 L2282.4 623.9 L2269.6 605.4 L2251.6 592.6 L2223.9 583.3 L2205.4 574.1 L2196.2 554.1 L2210.6 541.2 L2232.6 542.8 L2260.4 552 L2271.1 546.4 L2278.8 535.6 L2293.7 511.5 L2306.6 507.9 L2320.9 506.3 L2341.5 495.1 L2350.2 476.6 L2350.2 458.6 L2346.6 440.1 L2323 440.1 L2315.8 453 L2308.1 465.8 L2300.9 482.2 L2293.7 489.4 L2269.6 493 L2256.8 489.4 L2247.5 482.2 L2227.5 482.2 L2214.7 485.8 L2201.9 491.5 L2190.6 485.8 L2179.8 485.8 L2168.5 480.2 L2164.9 467.3 L2163.4 450.9 L2165.9 425.2 L2191.6 404.7 L2227.5 389.3 L2253.2 363.7 L2258.3 327.7 L2268.6 322.6 L2294.2 230.2 L1519.2 230.2Z" fill="#fdc088"/>
<path d="M1652.7 476.6 L1698.8 471.4 L1745 430.4 L1770.7 409.8 L1816.9 379.1 L1837.4 373.9 L1868.2 384.2 L1899 409.8 L1909.3 430.4 L1914.4 471.4 L1940.1 476.6 L1950.3 461.2 L1955.5 430.4 L1976 404.7 L1970.9 379.1 L1950.3 363.7 L1945.2 348.3 L1960.6 327.7 L1958 291.8 L1981.1 276.4 L1981.1 230.2 L1519.2 230.2 L1519.2 476.6Z" fill="#fdb373"/>
<path d="M2001.7 266.1 L2022.2 302.1 L2042.7 322.6 L2073.5 338 L2104.3 332.9 L2140.3 317.5 L2186.5 309.8 L2212.1 312.3 L2242.9 320 L2268.6 325.2 L2278.8 230.2 L2001.7 230.2Z" fill="#fdb373"/>
<path d="M1996.5 472.5 L2011.9 456 L2037.6 443.2 L2063.3 440.6 L2076.6 440.1 L2082.3 445.3 L2089.4 454.5 L2098.7 462.2 L2117.2 465.8 L2132 475 L2144.9 482.2 L2141.3 487.9 L2135.6 498.6 L2137.2 513.5 L2130 515.1 L2117.2 509.9 L2098.7 511.5 L2087.9 520.7 L2076.6 524.3 L2040.2 522.8 L2027.3 512.5 L2011.9 492Z" fill="#fdb373"/>
<path d="M2432.8 569 L2453.4 553.6 L2473.9 558.7 L2504.7 589.5 L2514.9 620.3 L2509.8 671.6 L2504.7 692.1 L2473.9 712.7 L2443.1 707.5 L2422.6 687 L2422.6 661.3 L2443.1 620.3 L2427.7 594.6Z" fill="#fdc088"/>
<path d="M2327.6 430.4 L2340.4 415 L2350.7 430.4 L2353.3 466.3 L2348.1 486.8 L2335.3 497.1 L2327.6 476.6Z" fill="#fdc088"/>
<path d="M2340.4 363.7 L2355.8 356 L2371.2 368.8 L2371.2 389.3 L2355.8 395.5 L2343 384.2Z" fill="#fdc088"/>
<path d="M1550 660.8 L1574.1 665.5 L1572.6 698.8 L1575.2 712.2 L1583.4 725.5 L1596.7 732.2 L1605.9 741.4 L1608.5 767.1 L1601.3 805.1 L1580.8 825.6 L1519.2 825.6 L1519.2 660.8Z" fill="#fdc088"/>
<path d="M1832.3 1020.6 L1858 1015.5 L1909.3 1020.6 L1932.4 1046.3 L1932.4 1082.2 L1909.3 1097.6 L1868.2 1100.2 L1837.4 1077.1 L1827.2 1046.3Z" fill="#fdc088"/>
<path d="M2227.5 1061.7 L2242.9 1054 L2278.8 1066.8 L2289.1 1077.1 L2268.6 1079.7 L2232.6 1069.4Z" fill="#fdc088"/>
<path d="M2427.7 918 L2443.1 897.5 L2473.9 876.9 L2504.7 856.4 L2525.2 861.5 L2514.9 897.5 L2473.9 918 L2453.4 933.4 L2432.8 935.9Z" fill="#fdc088"/>
<path d="M1596.2 959 L1616.7 989.8 L1627 1020.6 L1652.7 1061.7 L1683.4 1092.5 L1719.4 1128.4 L1755.3 1151.5 L1796.4 1174.6 L1837.4 1195.1 L1878.5 1215.7 L1919.6 1231.1 L1960.6 1243.9 L2001.7 1215.7 L2037.6 1190 L2083.8 1179.7 L2114.6 1195.1 L2145.4 1225.9 L2181.3 1238.8 L2217.2 1225.9 L2227.5 1338.9 L1519.2 1338.9 L1519.2 959Z" fill="#fdc088"/>
<path d="M2109.5 268.7 L2140.3 271.3 L2145.4 291.8 L2124.9 299.5 L2112 286.7Z" fill="#fdc088"/>
<path d="M1605.9 648 L1624.9 641.8 L1651.6 643.9 L1670.1 636.2 L1683.4 627 L1703.5 620.3 L1720.9 621.3 L1725 632.1 L1723.5 643.9 L1714.2 653.7 L1696.8 660.3 L1676.8 669.6 L1656.8 670.6 L1636.7 667 L1616.7 660.3 L1605.9 653.7Z" fill="#fda660"/>
<path d="M2058.1 1061.7 L2083.8 1059.1 L2135.1 1077.1 L2150.5 1092.5 L2155.7 1118.2 L2176.2 1143.8 L2171.1 1159.2 L2150.5 1164.4 L2114.6 1149 L2083.8 1128.4 L2063.3 1113 L2058.1 1082.2Z" fill="#fda660"/>
<path d="M1583.4 605.4 L1603.4 611 L1630.1 616.2 L1640.8 608 L1630.1 592.1 L1632.6 576.1 L1643.4 562.8 L1656.8 545.4 L1666 529.4 L1676.8 523.8 L1690.1 517.1 L1699.4 507.4 L1670.1 499.7 L1643.4 489.9 L1616.7 500.7 L1590 527.4 L1576.7 554.1 L1565.9 594.1Z" fill="#fdcd9c"/>
<path d="M1802.9 632.6 L1806.1 604 L1820.3 583.3 L1836.2 570.6 L1871.2 557.9 L1918.9 551.5 L1982.4 548.3 L2014.3 546.7 L2060 537.2 L2076.6 537.1 L2110 537.1 L2132 550 L2154.1 561.3 L2187 568.4 L2223.9 581.3 L2251.1 590.5 L2269.6 616.2 L2278.8 633.1 L2293.7 651.1 L2303 669.6 L2311.7 697.3 L2315.8 724.5 L2320.9 752.2 L2325 769.1 L2319.9 815.3 L2304.5 851.3 L2278.8 887.2 L2248 923.1 L2217.2 953.9 L2186.5 979.6 L2140.3 989.8 L2088.9 989.8 L2060.2 989.8 L2039.7 991.4 L2003.2 989.3 L1975.5 980.1 L1948.3 970.8 L1929.8 952.9 L1920.6 925.2 L1911.3 912.3 L1889.3 899.5 L1883.6 888.7 L1874.4 861 L1865.1 836.9 L1855.9 811.2 L1850.3 779.4 L1852.8 748.6 L1852.8 717.8 L1840 687 L1824.6 671.6 L1807.7 645.4Z" fill="#fdcd9c"/>
<path d="M1831.3 619.8 L1847.2 606.9 L1871.3 594.6 L1903.1 588 L1935 583.3 L1966.8 583.3 L1982.2 591 L1998.1 562.8 L2029.9 556.1 L2060.2 548.4 L2095.1 548.4 L2122.8 559.2 L2150 572 L2183.4 579.7 L2214.7 586.9 L2242.9 599.8 L2267.5 623.9 L2278.8 660.3 L2295.3 684.4 L2286 706.5 L2300.9 733.7 L2310.1 761.4 L2320.9 764 L2323 810.2 L2315.8 828.2 L2300.9 850.2 L2291.7 866.7 L2278.8 881.5 L2269.6 896.4 L2260.4 910.8 L2241.9 929.3 L2223.9 947.8 L2205.4 962.6 L2187 975.5 L2168.5 980.6 L2150 982.7 L2132 979.1 L2104.3 975.5 L2076.6 967.8 L2060.2 969.8 L2030.4 969.8 L1994 958.5 L1971.9 947.8 L1964.7 929.3 L1953.4 907.2 L1940.1 892.3 L1914.9 874.4 L1892.9 846.6 L1883.6 815.3 L1874.4 782.5 L1870.8 764 L1871.3 734.2 L1861.6 702.4 L1845.1 671.6 L1831.3 646Z" fill="#fdd7af"/>
<path d="M1842.4 660.3 L1861.5 633.3 L1885.3 619 L1925.1 615.8 L1948.9 619 L1972.7 625.3 L1988.6 609.5 L2001.3 596.7 L2015.6 582.4 L2036.3 574.5 L2060.1 568.1 L2090 565 L2090 688.9 L1996.6 688.9 L1917.1 736.6 L1893.3 736.6 L1885.3 704.8 L1869.5 681Z" fill="#fedfc0"/>
<path d="M1811.4 607.9 L1815 612.1 L1815.7 621.4 L1812.9 623.6 L1812.1 630 L1813.6 638.6 L1818.6 642.9 L1825 643.6 L1826.9 647.1 L1826.4 651.4 L1830 659.3 L1835.7 665 L1842.9 666.4 L1851.4 663.6 L1858.6 663.6 L1870 665.7 L1881.4 670.7 L1895.7 675.7 L1902.9 681.4 L1905.7 688.6 L1911.4 695.7 L1914.3 704.3 L1915.7 714.3 L1918.6 716.4 L1916.4 724.3 L1915 732.1 L1922.9 729.3 L1927.1 727.9 L1930.7 730 L1930.7 735.7 L1938.6 739.3 L1950 738.6 L1958.6 732.9 L1970 728.6 L1980 724.3 L1991.4 726.4 L1987.9 720 L1985.7 708.6 L1995.7 702.9 L1992.1 695.7 L1997.1 685.7 L2004.3 673.6 L1996.4 664.3 L1988.6 672.9 L1982.1 665.7 L1979.3 660 L1982.9 651.4 L1984.3 640 L1990 632.1 L2000 622.9 L2007.1 610 L2007.9 602.9 L2003.6 598.6 L2003.6 591.4 L2008.6 585.7 L2013.6 576.4 L2015.7 566.4 L2022.9 565 L2025.7 568.6 L2027.9 561.4 L2031.4 560.7 L2032.9 565.7 L2041.4 563.6 L2051.4 562.9 L2052.9 567.1 L2058.6 562.9 L2070 557.1 L2077.1 554.3 L2081.4 550 L2087.9 552.1 L2091.4 562.1 L2095.7 560.7 L2102.9 555 L2107.9 557.1 L2108.6 560.7 L2115 557.1 L2122.9 559.3 L2130.7 564.3 L2132.1 572.1 L2137.1 572.9 L2148.6 577.9 L2157.1 578.6 L2164.3 577.1 L2171.4 578.6 L2181.4 571.4 L2184.3 577.1 L2185 583.6 L2187.9 585 L2188.6 594.3 L2192.9 595 L2197.1 591.4 L2207.1 592.9 L2217.1 596.4 L2227.9 597.9 L2230 602.1 L2240 602.1 L2244.3 606.4 L2248.6 604.3 L2255.7 605.7 L2264.3 611.4 L2268.6 621.4 L2264.3 627.1 L2262.1 637.1 L2262.9 641.4 L2261.4 651.4 L2265.7 656.4 L2271.4 657.1 L2272.1 672.9 L2274.3 678.6 L2265.7 685 L2257.1 687.1 L2250 683.6 L2245 685 L2246.4 690 L2234.3 690 L2230.7 692.9 L2231.4 700 L2237.1 702.1 L2248.6 702.9 L2260.7 704.3 L2265.7 714.3 L2270 716.4 L2278.6 717.9 L2288.6 726.4 L2294.3 730 L2297.1 737.1 L2299.3 748.6 L2301.4 752.9 L2308.6 755 L2308.6 755 L2301.4 758.6 L2298.6 765.7 L2298.6 778.6 L2295.7 788.6 L2296.4 797.1 L2294.3 805 L2301.4 811.4 L2310 822.1 L2304.3 827.1 L2291.4 832.9 L2288.6 838.6 L2288.6 850 L2291.4 860 L2290.7 868.6 L2280 871.4 L2277.1 875.7 L2268.6 879.3 L2263.6 885.7 L2264.3 894.3 L2265.7 900 L2258.6 907.1 L2255.7 914.3 L2248.6 920 L2245.7 927.1 L2240 935.7 L2235 944.3 L2240 951.4 L2235.7 952.1 L2222.9 945.7 L2218.6 947.9 L2207.1 958.6 L2192.9 967.9 L2188.6 964.3 L2184.3 962.1 L2172.9 962.1 L2158.6 965 L2152.9 967.1 L2152.9 971.4 L2140 967.1 L2130 968.6 L2127.1 965 L2117.1 960.7 L2107.1 962.1 L2095.7 964.3 L2084.3 960 L2082.1 952.9 L2085 935.7 L2088.6 934.3 L2090.7 927.1 L2093.6 924.3 L2094.3 912.9 L2094.3 901.4 L2090 891.4 L2085.7 885 L2080.7 884.3 L2080 880 L2085 875 L2089.3 873.6 L2088.6 864.3 L2086.4 854.3 L2082.9 850 L2078.6 842.9 L2067.1 832.9 L2064.3 827.9 L2060 822.9 L2056.4 825 L2052.9 820 L2055.7 820.7 L2052.9 820 L2045.7 822.9 L2041.4 827.9 L2037.1 812.9 L2032.9 808.6 L2028.6 803.6 L2018.6 806.4 L2021.4 811.4 L2022.1 817.1 L2022.9 822.9 L2015.7 835.7 L2014.3 841.4 L2015 850 L2008.6 848.6 L2007.1 844.3 L1995.7 850 L1993.6 855.7 L1995.7 862.9 L2002.9 868.6 L2004.3 875.7 L2004.3 887.1 L2001.4 894.3 L1999.3 888.6 L1991.4 887.1 L1992.1 881.4 L1987.1 880.7 L1972.9 884.3 L1969.3 889.3 L1965.7 893.6 L1961.4 892.9 L1962.1 888.6 L1954.3 888.6 L1947.1 885 L1934.3 882.9 L1928.6 877.1 L1921.4 868.6 L1917.1 862.1 L1912.9 854.3 L1908.6 845.7 L1902.9 842.9 L1901.4 838.6 L1898.6 835.7 L1893.6 834.3 L1898.6 829.3 L1901.4 825 L1897.1 823.6 L1900 817.1 L1902.1 811.4 L1897.9 805.7 L1896.4 800 L1898.6 792.1 L1892.9 792.1 L1887.1 795.7 L1887.1 800.7 L1882.9 802.1 L1871.4 808.6 L1871.4 798.6 L1872.9 792.9 L1878.6 787.1 L1878.6 781.4 L1872.9 771.4 L1874.3 765.7 L1872.9 762.1 L1865.7 760.7 L1871.4 757.1 L1872.9 751.4 L1874.3 748.6 L1875.7 744.3 L1881.4 737.1 L1875.7 732.9 L1878.6 730 L1881.4 724.3 L1887.1 721.4 L1884.3 715.7 L1882.9 708.6 L1884.3 698.6 L1881.4 691.4 L1875.7 687.1 L1861.4 684.3 L1850 683.6 L1847.1 682.1 L1840 677.1 L1832.9 672.9 L1825.7 670 L1818.6 658.6 L1812.9 648.6 L1808.6 640 L1807.9 630 L1807.1 612.9 L1811.4 607.9Z" fill="#fedfc0"/>
<path d="M1846 672.8 L1850.7 676.1 L1851.9 676.7 L1861.9 677.3 L1862.8 677.4 L1877.1 680.3 L1877.7 680.4 L1878.3 680.6 L1878.9 680.9 L1879.4 681.2 L1879.9 681.5 L1885.6 685.8 L1886.1 686.2 L1886.6 686.7 L1887 687.2 L1887.3 687.7 L1887.7 688.2 L1887.9 688.8 L1890.8 696 L1891 696.7 L1891.2 697.4 L1891.3 698.1 L1891.3 698.8 L1891.2 699.6 L1890 708.4 L1891 713.4 L1893.4 718.3 L1893.7 718.9 L1893.9 719.6 L1894 720.3 L1894.1 720.9 L1894.1 721.6 L1894.1 722.3 L1894 723 L1893.8 723.6 L1893.5 724.3 L1893.2 724.9 L1892.9 725.5 L1892.4 726 L1892 726.5 L1891.4 727 L1890.9 727.4 L1890.3 727.7 L1886.6 729.5 L1885.6 731.5 L1885.6 731.5 L1886.2 732 L1886.7 732.5 L1887.1 733 L1887.5 733.6 L1887.8 734.2 L1888.1 734.9 L1888.2 735.6 L1888.4 736.3 L1888.4 737 L1888.4 737.7 L1888.3 738.4 L1888.2 739 L1887.9 739.7 L1887.7 740.3 L1887.3 740.9 L1886.9 741.5 L1882 747.7 L1880.9 750.8 L1880.5 751.7 L1879.5 753.9 L1878.4 757.9 L1878.7 758.3 L1879.1 758.9 L1879.4 759.5 L1880.8 763.1 L1881 763.8 L1881.2 764.5 L1881.3 765.2 L1881.3 766 L1881.2 766.7 L1881.1 767.4 L1880.3 770.4 L1884.6 778 L1885 778.6 L1885.2 779.3 L1885.4 780 L1885.5 780.7 L1885.6 781.4 L1885.6 787.1 L1885.5 787.8 L1885.4 788.5 L1885.4 788.5 L1889.1 786.2 L1889.7 785.9 L1890.3 785.6 L1890.9 785.4 L1891.6 785.3 L1892.2 785.2 L1892.9 785.1 L1898.6 785.1 L1899.2 785.2 L1899.9 785.3 L1900.6 785.4 L1901.2 785.7 L1901.8 785.9 L1902.4 786.3 L1903 786.7 L1903.5 787.1 L1903.9 787.6 L1904.3 788.2 L1904.7 788.7 L1905 789.3 L1905.2 790 L1905.4 790.6 L1905.5 791.3 L1905.6 792 L1905.6 792.7 L1905.5 793.3 L1905.3 794 L1903.7 800.1 L1904.3 802.6 L1907.7 807.2 L1908.1 807.8 L1908.5 808.4 L1908.7 809.1 L1908.9 809.7 L1909.1 810.4 L1909.1 811.1 L1909.1 811.8 L1909.1 812.5 L1908.9 813.2 L1908.7 813.9 L1906.6 819.6 L1906.4 820 L1906.4 820 L1906.5 820.1 L1906.9 820.7 L1907.3 821.2 L1907.7 821.8 L1907.9 822.4 L1908.2 823.1 L1908.3 823.7 L1908.4 824.4 L1908.4 825.1 L1908.4 825.7 L1908.3 826.4 L1908.1 827.1 L1907.9 827.7 L1907.6 828.3 L1907.3 828.9 L1905 832.3 L1906.4 833.6 L1906.8 834.1 L1907.2 834.6 L1907.5 835.2 L1907.8 835.8 L1908.1 836.4 L1908.6 837.9 L1911.7 839.5 L1912.3 839.8 L1912.8 840.1 L1913.3 840.5 L1913.7 841 L1914.2 841.5 L1914.5 842 L1914.8 842.6 L1919.1 851 L1923.1 858.5 L1927 864.4 L1933.7 872.4 L1937.6 876.3 L1948.3 878.1 L1949 878.2 L1949.6 878.5 L1950.3 878.7 L1955.9 881.6 L1962.1 881.6 L1962.8 881.6 L1963.5 881.7 L1964.1 881.9 L1964.8 882.1 L1965.4 882.4 L1965.6 882.5 L1967.2 880.2 L1967.6 879.7 L1968.1 879.2 L1968.6 878.7 L1969.2 878.3 L1969.8 878 L1970.5 877.7 L1971.2 877.5 L1985.4 873.9 L1986.1 873.8 L1986.8 873.7 L1987.5 873.7 L1988.1 873.8 L1993.1 874.5 L1993.8 874.6 L1994.5 874.8 L1995.1 875.1 L1995.7 875.4 L1996.3 875.8 L1996.8 876.2 L1997.3 876.7 L1997.3 876.7 L1997.3 876.4 L1996.5 872.4 L1991.3 868.3 L1990.8 867.9 L1990.3 867.3 L1989.9 866.8 L1989.5 866.2 L1989.2 865.5 L1989 864.9 L1986.9 857.7 L1986.7 857.1 L1986.6 856.5 L1986.6 855.8 L1986.6 855.2 L1986.7 854.5 L1986.8 853.9 L1987 853.3 L1989.2 847.5 L1989.4 846.9 L1989.7 846.4 L1990.1 845.8 L1990.5 845.3 L1991 844.9 L1991.5 844.4 L1992 844.1 L1992.6 843.7 L2004 838 L2004.7 837.7 L2005.3 837.5 L2006 837.4 L2006.7 837.3 L2007.4 837.3 L2008.1 837.4 L2008.9 834 L2009.1 833.4 L2009.3 832.9 L2009.6 832.3 L2015.6 821.5 L2015.2 818 L2014.7 813.7 L2012.5 809.9 L2012.2 809.3 L2011.9 808.6 L2011.7 807.9 L2011.6 807.2 L2011.6 806.5 L2011.6 805.8 L2011.7 805.1 L2011.9 804.5 L2012.1 803.8 L2012.4 803.2 L2012.7 802.5 L2013.2 802 L2013.6 801.5 L2014.2 801 L2014.7 800.6 L2015.3 800.2 L2016 799.9 L2016.6 799.7 L2026.6 796.8 L2027.3 796.7 L2028 796.6 L2028.6 796.6 L2029.3 796.6 L2029.9 796.7 L2030.6 796.9 L2031.2 797.1 L2031.8 797.4 L2032.4 797.7 L2032.9 798.1 L2033.4 798.5 L2033.9 799 L2038 803.8 L2042.1 807.9 L2042.6 808.4 L2043 809 L2043.3 809.6 L2043.6 810.3 L2043.9 810.9 L2045.2 815.5 L2050.3 813.5 L2050.9 813.3 L2051.5 813.1 L2052.2 813 L2052.9 813 L2053.5 813 L2054.2 813.1 L2054.8 813.3 L2055.5 813.5 L2056.1 813.8 L2056.6 814.1 L2057.2 814.5 L2057.7 814.9 L2058.1 815.4 L2058.6 815.9 L2058.6 816 L2059 815.9 L2059.7 815.9 L2060.4 815.9 L2061.1 815.9 L2061.8 816.1 L2062.5 816.3 L2063.1 816.6 L2063.7 816.9 L2064.3 817.3 L2064.8 817.8 L2065.3 818.3 L2069.6 823.3 L2070 823.8 L2070.4 824.4 L2072.6 828.4 L2083.2 837.6 L2083.7 838.1 L2084.2 838.7 L2084.6 839.3 L2088.6 845.9 L2091.8 849.8 L2092.2 850.3 L2092.6 850.9 L2092.9 851.5 L2093.1 852.2 L2093.3 852.8 L2095.4 862.8 L2095.6 863.7 L2096.3 873 L2096.3 873.7 L2096.2 874.4 L2096.1 875 L2096 875.7 L2095.7 876.3 L2095.5 876.9 L2095.1 877.4 L2094.7 878 L2094.3 878.5 L2093.8 878.9 L2093.3 879.3 L2092.7 879.7 L2092.1 880 L2091.5 880.2 L2091 880.4 L2091.2 880.6 L2091.5 881.1 L2095.8 887.5 L2096.2 888.1 L2096.4 888.7 L2100.7 898.7 L2101 899.3 L2101.1 900 L2101.2 900.7 L2101.3 901.4 L2101.3 912.9 L2101.3 913.3 L2100.6 924.7 L2100.5 925.4 L2100.3 926.1 L2100.1 926.8 L2099.8 927.5 L2099.4 928.1 L2099 928.7 L2098.5 929.2 L2096.9 930.8 L2095.3 936.3 L2095 937 L2094.7 937.6 L2094.4 938.2 L2094 938.7 L2093.5 939.3 L2093 939.7 L2092.4 940.1 L2091.8 940.5 L2091.3 940.7 L2089.3 952.4 L2090 954.7 L2096.3 957 L2105.9 955.3 L2106.2 955.2 L2116.2 953.8 L2116.8 953.7 L2117.4 953.7 L2118.1 953.8 L2118.7 953.9 L2119.3 954.1 L2119.9 954.3 L2129.9 958.6 L2130.5 958.9 L2131.1 959.2 L2131.7 959.6 L2132.2 960.1 L2132.6 960.6 L2133 961.1 L2139 960.2 L2139.7 960.2 L2140.3 960.1 L2141 960.2 L2141.6 960.3 L2142.2 960.5 L2147.8 962.4 L2148 962.1 L2148.6 961.6 L2149.1 961.2 L2149.8 960.9 L2150.4 960.6 L2156.1 958.4 L2156.6 958.3 L2157.2 958.1 L2171.5 955.3 L2172.2 955.2 L2172.9 955.1 L2184.3 955.1 L2184.9 955.2 L2185.6 955.3 L2186.2 955.4 L2186.8 955.6 L2187.4 955.9 L2191.7 958 L2192.4 958.4 L2193.1 958.9 L2193.4 959.2 L2202.8 953 L2213.8 942.8 L2214.3 942.3 L2214.9 941.9 L2215.4 941.6 L2219.7 939.5 L2220.4 939.2 L2221.1 938.9 L2221.8 938.8 L2222.5 938.7 L2223.2 938.7 L2223.9 938.8 L2224.6 938.9 L2225.3 939.2 L2226 939.5 L2228.9 940.9 L2229 940.8 L2234 932.2 L2234.2 931.8 L2239.5 923.9 L2242.1 917.4 L2242.4 916.7 L2242.7 916.1 L2243.2 915.5 L2243.7 915 L2244.2 914.5 L2249.9 910 L2252.1 904.5 L2252.4 903.9 L2252.7 903.3 L2253.1 902.7 L2253.6 902.2 L2258 897.9 L2257.5 896 L2257.4 895.4 L2257.3 894.9 L2256.6 886.3 L2256.6 885.6 L2256.6 885 L2256.7 884.4 L2256.9 883.7 L2257.1 883.1 L2257.3 882.5 L2257.7 881.9 L2258 881.4 L2263 875 L2263.5 874.4 L2264 873.9 L2264.6 873.5 L2265.2 873.1 L2265.9 872.8 L2272.5 870.1 L2274.2 867.5 L2274.6 867 L2275.1 866.4 L2275.6 866 L2276.2 865.5 L2276.8 865.2 L2277.5 864.9 L2278.2 864.7 L2284.1 863.1 L2284.3 860.7 L2281.8 851.9 L2281.7 851.3 L2281.6 850.6 L2281.6 850 L2281.6 838.6 L2281.6 837.9 L2281.7 837.3 L2281.8 836.6 L2282 836 L2282.3 835.4 L2285.2 829.7 L2285.5 829.1 L2285.9 828.6 L2286.3 828 L2286.8 827.6 L2287.4 827.1 L2288 826.8 L2288.6 826.5 L2300.3 821.2 L2296.3 816.2 L2289.6 810.2 L2289.1 809.7 L2288.7 809.2 L2288.3 808.6 L2287.9 808 L2287.7 807.3 L2287.5 806.6 L2287.3 805.9 L2287.3 805.2 L2287.3 804.5 L2287.4 803.8 L2287.5 803.2 L2289.4 796.5 L2288.7 789.2 L2288.7 788.5 L2288.7 787.9 L2288.8 787.3 L2289 786.6 L2291.6 777.6 L2291.6 765.7 L2291.6 765 L2291.7 764.4 L2291.9 763.7 L2292.1 763.1 L2294.9 756 L2295 755.7 L2293 751.7 L2292.8 751.1 L2292.6 750.5 L2292.4 749.9 L2290.4 739.1 L2288.6 734.7 L2284.9 732.4 L2284.4 732.1 L2284 731.7 L2275.5 724.4 L2268.8 723.3 L2268.2 723.2 L2267.5 723 L2266.9 722.7 L2262.6 720.5 L2262 720.2 L2261.5 719.9 L2261 719.5 L2260.5 719 L2260.1 718.5 L2259.8 718 L2259.5 717.4 L2256.1 710.8 L2247.9 709.8 L2236.7 709.1 L2236 709.1 L2235.3 708.9 L2234.7 708.7 L2229 706.6 L2228.3 706.3 L2227.7 705.9 L2227.1 705.5 L2226.6 705.1 L2226.1 704.5 L2225.7 704 L2225.3 703.4 L2225 702.7 L2224.7 702.1 L2224.6 701.4 L2224.5 700.7 L2223.7 693.6 L2223.7 692.9 L2223.7 692.2 L2223.9 691.5 L2224 690.8 L2224.3 690.1 L2224.6 689.5 L2224.9 688.9 L2225.3 688.4 L2225.8 687.9 L2226.3 687.4 L2229.9 684.5 L2230.5 684.1 L2231 683.8 L2231.7 683.5 L2232.3 683.3 L2232.9 683.1 L2233.6 683 L2234.3 683 L2238.3 683 L2238.3 682.9 L2238.6 682.2 L2238.9 681.6 L2239.2 681 L2239.7 680.5 L2240.1 680 L2240.6 679.5 L2241.2 679.1 L2241.8 678.8 L2242.4 678.5 L2243.1 678.3 L2248.1 676.8 L2248.7 676.7 L2249.4 676.6 L2250 676.6 L2250.6 676.6 L2251.3 676.7 L2251.9 676.8 L2252.5 677 L2253.1 677.3 L2258 679.7 L2262.6 678.6 L2265.9 676.1 L2265.6 675.3 L2265.4 674.6 L2265.2 673.9 L2265.2 673.2 L2264.7 663.3 L2264.2 663.3 L2263.6 663.1 L2263 662.9 L2262.4 662.6 L2261.8 662.3 L2261.3 661.9 L2260.8 661.5 L2260.4 661 L2256.1 656 L2255.7 655.5 L2255.4 654.9 L2255.1 654.3 L2254.8 653.7 L2254.6 653.1 L2254.5 652.4 L2254.4 651.8 L2254.4 651.1 L2254.5 650.4 L2255.8 641.5 L2255.2 638.3 L2255.2 637.6 L2255.1 637 L2255.2 636.3 L2255.3 635.7 L2257.4 625.7 L2257.6 624.9 L2257.9 624.2 L2258.3 623.6 L2258.7 622.9 L2260.5 620.5 L2258.7 616.1 L2253 612.3 L2249.6 611.6 L2247.4 612.7 L2246.8 613 L2246.2 613.2 L2245.5 613.3 L2244.8 613.4 L2244.2 613.4 L2243.5 613.4 L2242.8 613.3 L2242.2 613.1 L2241.6 612.9 L2240.9 612.6 L2240.4 612.2 L2239.8 611.8 L2239.3 611.4 L2237.1 609.1 L2230 609.1 L2229.3 609.1 L2228.6 609 L2227.9 608.8 L2227.3 608.6 L2226.6 608.3 L2226 607.9 L2225.5 607.5 L2225 607 L2224.5 606.5 L2224.1 605.9 L2223.7 605.3 L2223.3 604.3 L2216.2 603.4 L2215.5 603.2 L2214.8 603 L2205.5 599.7 L2199.2 598.8 L2197.3 600.4 L2196.8 600.8 L2196.2 601.1 L2195.6 601.4 L2195 601.7 L2194.4 601.8 L2193.7 601.9 L2193 602 L2192.4 602 L2191.7 601.9 L2187.4 601.2 L2186.8 601.1 L2186.1 600.8 L2185.5 600.6 L2184.9 600.3 L2184.4 599.9 L2183.9 599.5 L2183.4 599 L2183 598.5 L2182.6 598 L2182.3 597.4 L2182 596.8 L2181.8 596.1 L2181.7 595.5 L2181.6 594.8 L2181.2 589.4 L2180.7 589.1 L2180.2 588.6 L2179.7 588.1 L2179.3 587.6 L2178.9 587 L2178.6 586.4 L2178.3 585.7 L2178.2 585 L2178 584.3 L2177.8 582.6 L2175.5 584.3 L2174.9 584.7 L2174.3 585 L2173.6 585.2 L2172.9 585.4 L2172.2 585.5 L2171.5 585.6 L2170.8 585.5 L2170.1 585.4 L2164.3 584.3 L2158.5 585.4 L2157.9 585.5 L2157.2 585.6 L2156.6 585.5 L2148 584.8 L2147.2 584.7 L2146.5 584.5 L2145.8 584.3 L2135.2 579.7 L2131.2 579.1 L2130.5 578.9 L2129.8 578.8 L2129.2 578.5 L2128.6 578.2 L2128.1 577.8 L2127.5 577.4 L2127.1 576.9 L2126.6 576.4 L2126.2 575.9 L2125.9 575.3 L2125.6 574.7 L2125.4 574 L2125.3 573.4 L2124.4 568.5 L2120 565.8 L2115.9 564.6 L2112 566.8 L2111.3 567.1 L2110.7 567.4 L2110 567.6 L2109.3 567.7 L2108.7 567.7 L2108 567.7 L2107.3 567.6 L2106.6 567.4 L2106 567.2 L2105.3 566.9 L2104.7 566.6 L2104.2 566.2 L2103.7 565.7 L2103.2 565.2 L2102.8 564.6 L2102.5 564.2 L2100.1 566.2 L2099.6 566.5 L2099.1 566.9 L2098.5 567.1 L2097.9 567.4 L2093.6 568.8 L2093 569 L2092.3 569.1 L2091.6 569.1 L2091 569.1 L2090.3 569.1 L2089.6 568.9 L2089 568.7 L2088.4 568.4 L2087.8 568.1 L2087.2 567.7 L2086.7 567.3 L2086.2 566.8 L2085.8 566.3 L2085.4 565.7 L2085.1 565.1 L2084.8 564.5 L2082.7 558.6 L2082.1 559.2 L2081.6 559.7 L2081 560.1 L2080.4 560.5 L2079.7 560.8 L2072.9 563.5 L2062.3 568.8 L2057.1 572.7 L2056.5 573.1 L2055.9 573.5 L2055.2 573.7 L2054.6 573.9 L2053.9 574.1 L2053.2 574.1 L2052.5 574.1 L2051.8 574.1 L2051.1 573.9 L2050.4 573.7 L2049.8 573.4 L2049.2 573.1 L2048.6 572.7 L2048.1 572.3 L2047.6 571.8 L2047.2 571.2 L2046.8 570.6 L2046.6 570.2 L2042.5 570.5 L2034.6 572.5 L2033.9 572.6 L2033.2 572.7 L2032.6 572.7 L2031.9 572.6 L2031.5 572.6 L2031.1 573 L2030.7 573.5 L2030.1 574 L2029.6 574.4 L2029 574.8 L2028.4 575 L2027.7 575.3 L2027 575.4 L2026.4 575.5 L2025.7 575.6 L2025 575.5 L2024.3 575.4 L2023.6 575.3 L2023 575 L2022.4 574.7 L2021.8 574.4 L2021.3 574 L2020.4 577.9 L2020.2 578.5 L2020 579.2 L2019.7 579.7 L2014.7 589 L2014.3 589.7 L2013.8 590.3 L2010.6 594.1 L2010.6 595.7 L2012.8 597.9 L2013.3 598.4 L2013.7 599 L2014 599.6 L2014.3 600.2 L2014.6 600.8 L2014.7 601.5 L2014.8 602.2 L2014.9 602.9 L2014.8 603.6 L2014.1 610.7 L2014 611.4 L2013.8 612.1 L2013.6 612.8 L2013.3 613.4 L2006.1 626.3 L2005.7 626.9 L2005.3 627.5 L2004.8 628 L1995.3 636.8 L1991 642.7 L1989.8 652.3 L1989.7 652.9 L1989.5 653.5 L1989.3 654.1 L1987 659.7 L1988 661.7 L1988.6 662.4 L1991.3 659.6 L1991.8 659.1 L1992.3 658.6 L1992.9 658.2 L1993.5 657.9 L1994.2 657.7 L1994.8 657.5 L1995.5 657.3 L1996.2 657.3 L1996.9 657.3 L1997.6 657.4 L1998.3 657.5 L1999 657.8 L1999.6 658 L2000.2 658.4 L2000.8 658.8 L2001.3 659.3 L2001.8 659.8 L2009.6 669 L2010 669.6 L2010.4 670.1 L2010.7 670.7 L2010.9 671.4 L2011.1 672 L2011.2 672.6 L2011.3 673.3 L2011.3 674 L2011.2 674.6 L2011.1 675.3 L2010.9 675.9 L2010.6 676.5 L2010.3 677.1 L2003.3 689.1 L2000 695.7 L2002 699.7 L2002.3 700.4 L2002.5 701 L2002.6 701.7 L2002.7 702.4 L2002.7 703.1 L2002.6 703.9 L2002.5 704.5 L2002.3 705.2 L2002 705.9 L2001.7 706.5 L2001.3 707.1 L2000.8 707.6 L2000.3 708.1 L1999.8 708.6 L1999.2 708.9 L1993.5 712.2 L1994.5 717.6 L1997.5 723 L1997.9 723.6 L1998.1 724.3 L1998.3 725 L1998.4 725.6 L1998.4 726.3 L1998.4 727 L1998.3 727.7 L1998.2 728.4 L1997.9 729 L1997.6 729.6 L1997.3 730.2 L1996.9 730.8 L1996.4 731.3 L1995.9 731.8 L1995.4 732.2 L1994.8 732.6 L1994.2 732.9 L1993.5 733.1 L1992.9 733.3 L1992.2 733.4 L1991.5 733.4 L1990.8 733.4 L1990.1 733.3 L1980.8 731.6 L1972.8 735 L1972.5 735.1 L1961.8 739.1 L1953.9 744.4 L1953.3 744.8 L1952.6 745.1 L1951.9 745.3 L1951.2 745.5 L1950.4 745.6 L1939 746.3 L1938.3 746.3 L1937.6 746.2 L1937 746.1 L1936.3 745.9 L1935.7 745.7 L1927.8 742.1 L1927.2 741.8 L1926.7 741.4 L1926.1 741 L1925.7 740.6 L1925.2 740 L1924.8 739.5 L1924.5 738.9 L1924.2 738.3 L1924 737.7 L1923.8 737 L1923.8 736.4 L1917.4 738.7 L1916.7 738.9 L1916 739.1 L1915.3 739.1 L1914.6 739.1 L1913.9 739.1 L1913.3 738.9 L1912.6 738.7 L1911.9 738.4 L1911.3 738.1 L1910.8 737.7 L1910.2 737.3 L1909.7 736.8 L1909.3 736.2 L1908.9 735.6 L1908.6 735 L1908.4 734.3 L1908.2 733.7 L1908.1 733 L1908 732.3 L1908 731.6 L1908.1 730.9 L1909.5 723 L1909.7 722.4 L1910.6 719.1 L1910.5 719 L1910.1 718.4 L1909.7 717.9 L1909.4 717.2 L1909.1 716.6 L1908.9 716 L1908.8 715.3 L1907.4 705.9 L1905.2 699.1 L1900.2 692.9 L1899.8 692.4 L1899.5 691.8 L1899.2 691.2 L1897 685.7 L1892.3 681.9 L1879.1 677.3 L1878.6 677.1 L1867.9 672.4 L1857.9 670.6 L1852.6 670.6 L1846 672.8Z" fill="#fee7d0"/>
<path d="M1880.2 795.5 L1879.7 795.9 L1880 795.7 L1880.1 795.7 L1880.2 795.5Z" fill="#fee7d0"/>
<path d="M1885.3 688.9 L1901.2 679.4 L1925.1 676.2 L1948.9 669.8 L1972.7 661.9 L1988.6 655.5 L1996.6 657.1 L1996.6 736.6 L1917.1 744.5 L1901.2 720.7Z" fill="#fee7d0"/>
<path d="M2104.3 623.6 L2120.7 621.8 L2141.1 638.2 L2177.9 655 L2172.1 678.9 L2170.4 706.4 L2183.2 733.9 L2196.1 752.1 L2223.6 756.1 L2242.1 770.7 L2249.3 780 L2249.3 796.8 L2242.1 815 L2223.6 833.6 L2210.7 851.8 L2205.4 879.3 L2192.5 906.8 L2168.6 910.7 L2150.4 916.1 L2131.8 916.1 L2128.2 896.1 L2115.4 879.3 L2113.6 861.1 L2120.7 842.5 L2124.6 829.6 L2113.6 811.4 L2095 798.6 L2067.5 787.5 L2040 778.2 L2028.6 768.6 L2035.7 747.1 L2047.5 711.8 L2058.2 702.5 L2076.8 713.6 L2095 691.8 L2100.7 660.4Z" fill="#feeddb"/>
</g>
<path d="M1811.4 607.9 L1815 612.1 L1815.7 621.4 L1812.9 623.6 L1812.1 630 L1813.6 638.6 L1818.6 642.9 L1825 643.6 L1826.9 647.1 L1826.4 651.4 L1830 659.3 L1835.7 665 L1842.9 666.4 L1851.4 663.6 L1858.6 663.6 L1870 665.7 L1881.4 670.7 L1895.7 675.7 L1902.9 681.4 L1905.7 688.6 L1911.4 695.7 L1914.3 704.3 L1915.7 714.3 L1918.6 716.4 L1916.4 724.3 L1915 732.1 L1922.9 729.3 L1927.1 727.9 L1930.7 730 L1930.7 735.7 L1938.6 739.3 L1950 738.6 L1958.6 732.9 L1970 728.6 L1980 724.3 L1991.4 726.4 L1987.9 720 L1985.7 708.6 L1995.7 702.9 L1992.1 695.7 L1997.1 685.7 L2004.3 673.6 L1996.4 664.3 L1988.6 672.9 L1982.1 665.7 L1979.3 660 L1982.9 651.4 L1984.3 640 L1990 632.1 L2000 622.9 L2007.1 610 L2007.9 602.9 L2003.6 598.6 L2003.6 591.4 L2008.6 585.7 L2013.6 576.4 L2015.7 566.4 L2022.9 565 L2025.7 568.6 L2027.9 561.4 L2031.4 560.7 L2032.9 565.7 L2041.4 563.6 L2051.4 562.9 L2052.9 567.1 L2058.6 562.9 L2070 557.1 L2077.1 554.3 L2081.4 550 L2087.9 552.1 L2091.4 562.1 L2095.7 560.7 L2102.9 555 L2107.9 557.1 L2108.6 560.7 L2115 557.1 L2122.9 559.3 L2130.7 564.3 L2132.1 572.1 L2137.1 572.9 L2148.6 577.9 L2157.1 578.6 L2164.3 577.1 L2171.4 578.6 L2181.4 571.4 L2184.3 577.1 L2185 583.6 L2187.9 585 L2188.6 594.3 L2192.9 595 L2197.1 591.4 L2207.1 592.9 L2217.1 596.4 L2227.9 597.9 L2230 602.1 L2240 602.1 L2244.3 606.4 L2248.6 604.3 L2255.7 605.7 L2264.3 611.4 L2268.6 621.4 L2264.3 627.1 L2262.1 637.1 L2262.9 641.4 L2261.4 651.4 L2265.7 656.4 L2271.4 657.1 L2272.1 672.9 L2274.3 678.6 L2265.7 685 L2257.1 687.1 L2250 683.6 L2245 685 L2246.4 690 L2234.3 690 L2230.7 692.9 L2231.4 700 L2237.1 702.1 L2248.6 702.9 L2260.7 704.3 L2265.7 714.3 L2270 716.4 L2278.6 717.9 L2288.6 726.4 L2294.3 730 L2297.1 737.1 L2299.3 748.6 L2301.4 752.9 L2308.6 755 L2308.6 755 L2301.4 758.6 L2298.6 765.7 L2298.6 778.6 L2295.7 788.6 L2296.4 797.1 L2294.3 805 L2301.4 811.4 L2310 822.1 L2304.3 827.1 L2291.4 832.9 L2288.6 838.6 L2288.6 850 L2291.4 860 L2290.7 868.6 L2280 871.4 L2277.1 875.7 L2268.6 879.3 L2263.6 885.7 L2264.3 894.3 L2265.7 900 L2258.6 907.1 L2255.7 914.3 L2248.6 920 L2245.7 927.1 L2240 935.7 L2235 944.3 L2240 951.4 L2235.7 952.1 L2222.9 945.7 L2218.6 947.9 L2207.1 958.6 L2192.9 967.9 L2188.6 964.3 L2184.3 962.1 L2172.9 962.1 L2158.6 965 L2152.9 967.1 L2152.9 971.4 L2140 967.1 L2130 968.6 L2127.1 965 L2117.1 960.7 L2107.1 962.1 L2095.7 964.3 L2084.3 960 L2082.1 952.9 L2085 935.7 L2088.6 934.3 L2090.7 927.1 L2093.6 924.3 L2094.3 912.9 L2094.3 901.4 L2090 891.4 L2085.7 885 L2080.7 884.3 L2080 880 L2085 875 L2089.3 873.6 L2088.6 864.3 L2086.4 854.3 L2082.9 850 L2078.6 842.9 L2067.1 832.9 L2064.3 827.9 L2060 822.9 L2056.4 825 L2052.9 820 L2055.7 820.7 L2052.9 820 L2045.7 822.9 L2041.4 827.9 L2037.1 812.9 L2032.9 808.6 L2028.6 803.6 L2018.6 806.4 L2021.4 811.4 L2022.1 817.1 L2022.9 822.9 L2015.7 835.7 L2014.3 841.4 L2015 850 L2008.6 848.6 L2007.1 844.3 L1995.7 850 L1993.6 855.7 L1995.7 862.9 L2002.9 868.6 L2004.3 875.7 L2004.3 887.1 L2001.4 894.3 L1999.3 888.6 L1991.4 887.1 L1992.1 881.4 L1987.1 880.7 L1972.9 884.3 L1969.3 889.3 L1965.7 893.6 L1961.4 892.9 L1962.1 888.6 L1954.3 888.6 L1947.1 885 L1934.3 882.9 L1928.6 877.1 L1921.4 868.6 L1917.1 862.1 L1912.9 854.3 L1908.6 845.7 L1902.9 842.9 L1901.4 838.6 L1898.6 835.7 L1893.6 834.3 L1898.6 829.3 L1901.4 825 L1897.1 823.6 L1900 817.1 L1902.1 811.4 L1897.9 805.7 L1896.4 800 L1898.6 792.1 L1892.9 792.1 L1887.1 795.7 L1887.1 800.7 L1882.9 802.1 L1871.4 808.6 L1871.4 798.6 L1872.9 792.9 L1878.6 787.1 L1878.6 781.4 L1872.9 771.4 L1874.3 765.7 L1872.9 762.1 L1865.7 760.7 L1871.4 757.1 L1872.9 751.4 L1874.3 748.6 L1875.7 744.3 L1881.4 737.1 L1875.7 732.9 L1878.6 730 L1881.4 724.3 L1887.1 721.4 L1884.3 715.7 L1882.9 708.6 L1884.3 698.6 L1881.4 691.4 L1875.7 687.1 L1861.4 684.3 L1850 683.6 L1847.1 682.1 L1840 677.1 L1832.9 672.9 L1825.7 670 L1818.6 658.6 L1812.9 648.6 L1808.6 640 L1807.9 630 L1807.1 612.9 L1811.4 607.9" fill="none" stroke="#000" stroke-width="4.17" stroke-linejoin="round" stroke-linecap="round" clip-path="url(#clip2b)"/>
<path d="M1838.6 687.1 L1840 692.9 L1850 697.1 L1858.6 701.4 L1860 710 L1865.7 714.3 L1871.4 711.4 L1870 704.3 L1874.3 705.7 L1875.7 695.7 L1872.9 690 L1864.3 687.1 L1850 685.7 L1838.6 687.1" fill="none" stroke="#000" stroke-width="4.17" stroke-linejoin="round" stroke-linecap="round" clip-path="url(#clip2b)"/>
<path d="M1957.9 674.3 L1962.9 672.9 L1970 677.1 L1980 685.7 L1980.7 698.6 L1977.1 705.7 L1972.9 706.4 L1968.6 700 L1967.1 692.9 L1961.4 684.3 L1957.1 678.6 L1957.9 674.3" fill="none" stroke="#000" stroke-width="4.17" stroke-linejoin="round" stroke-linecap="round" clip-path="url(#clip2b)"/>
<path d="M1955.7 708.6 L1961.4 710.7 L1970 715.7 L1965.7 721.4 L1958.6 722.9 L1960 715.7 L1955.7 708.6" fill="none" stroke="#000" stroke-width="4.17" stroke-linejoin="round" stroke-linecap="round" clip-path="url(#clip2b)"/>
<path d="M1860 785.7 L1867.1 783.6 L1867.9 802.9 L1861.4 805.7 L1860 792.9 L1860 785.7" fill="none" stroke="#000" stroke-width="4.17" stroke-linejoin="round" stroke-linecap="round" clip-path="url(#clip2b)"/>
<path d="M1897.1 848.6 L1907.1 848.6 L1908.6 852.9 L1904.3 860 L1901.4 860 L1900 850 L1897.1 848.6" fill="none" stroke="#000" stroke-width="4.17" stroke-linejoin="round" stroke-linecap="round" clip-path="url(#clip2b)"/>
<path d="M1908.6 861.4 L1911.4 864.3 L1912.1 871.4 L1908.6 871.4 L1907.9 864.3 L1908.6 861.4" fill="none" stroke="#000" stroke-width="4.17" stroke-linejoin="round" stroke-linecap="round" clip-path="url(#clip2b)"/>
<path d="M2010.7 868.6 L2018.6 868.6 L2019.3 878.6 L2015.7 884.3 L2011.4 878.6 L2010.7 868.6" fill="none" stroke="#000" stroke-width="4.17" stroke-linejoin="round" stroke-linecap="round" clip-path="url(#clip2b)"/>
<path d="M1588.1 554.9 L1592.2 563.2 L1593.6 569.6 L1597.2 573.3 L1602.8 577.9 L1612.9 574.2 L1619.3 567.8 L1627.5 574.2 L1629.4 584.3 L1632.1 588.9 L1640.4 596.2 L1642.2 600.8 L1646.8 608.2 L1652.3 610 L1660.6 610.9 L1667.9 609.5 L1667.5 613.2 L1685.4 612.3 L1692.7 608.6 L1701.9 600.3 L1705.6 605.4 L1703.3 612.3 L1699.2 613.7 L1702.8 617.3 L1703.8 623.8 L1700.1 628.4 L1694.6 632 L1690.9 637.5 L1683.6 643 L1674.4 648.1 L1665.2 651.8 L1659.7 654.5" fill="none" stroke="#000" stroke-width="4.17" stroke-linejoin="round" stroke-linecap="round" clip-path="url(#clip2b)"/>
<path d="M1564.2 628.4 L1568.8 630.2 L1576.1 632.9 L1585.3 644 L1591.7 632.9 L1598.2 642.1 L1608.3 649.5 L1628.5 654.1 L1637.6 652.2 L1643.2 655.9 L1651.4 655.9 L1659.7 650.4 L1669.8 644 L1679.9 636.6 L1674.4 631.1 L1667 629.3 L1665.2 617.3 L1667.9 612.7" fill="none" stroke="#000" stroke-width="4.17" stroke-linejoin="round" stroke-linecap="round" clip-path="url(#clip2b)"/>
<path d="M1686.3 539.7 L1694.6 537 L1697.3 542 L1695.5 552.1 L1691.8 553.5 L1691.4 560.4 L1685.4 561.8 L1682.6 550.3 L1686.3 547.1 L1687.2 541.1 L1686.3 539.7" fill="none" stroke="#000" stroke-width="4.17" stroke-linejoin="round" stroke-linecap="round" clip-path="url(#clip2b)"/>
<path d="M2467.1 601.8 L2480.4 597.9 L2482.5 600 L2481.1 605.7 L2482.1 613.2 L2478.6 614.3 L2472.1 614.3 L2467.1 602.1" fill="none" stroke="#000" stroke-width="4.17" stroke-linejoin="round" stroke-linecap="round" clip-path="url(#clip2b)"/>
<path d="M2129.6 1266.7 L2130.8 1261 L2132.9 1250.4 L2141.8 1238.6 L2149.2 1237.3 L2155.7 1240.6 L2165.1 1239.4 L2167.6 1243.1 L2166.3 1254.5 L2165.9 1261" fill="none" stroke="#000" stroke-width="4.17" stroke-linejoin="round" stroke-linecap="round" clip-path="url(#clip2b)"/>
<path d="M2052.9 260.6 L2084.8 261.7 L2116.6 264.7 L2148.1 269.7 L2179.3 276.8 L2209.9 285.8 L2239.9 296.7 L2269.2 309.5 L2297.5 324.1 L2324.9 340.5 L2351.2 358.6 L2376.3 378.4 L2400.1 399.7 L2422.5 422.4 L2443.4 446.5 L2462.8 471.9 L2480.4 498.5 L2496.4 526.2 L2510.6 554.8 L2522.9 584.2 L2533.4 614.4 L2541.9 645.2 L2548.4 676.4 L2552.9 708 L2555.5 739.9 L2556 771.8 L2554.5 803.7 L2550.9 835.4 L2545.4 866.8 L2537.9 897.9 L2528.4 928.4 L2517 958.2 L2503.7 987.2 L2488.6 1015.4 L2471.8 1042.5 L2453.3 1068.5 L2433.2 1093.3 L2411.5 1116.7 L2388.4 1138.8 L2363.9 1159.3 L2338.2 1178.2 L2311.4 1195.5 L2283.5 1211 L2254.6 1224.7 L2225 1236.6 L2194.7 1246.6 L2163.7 1254.6 L2132.4 1260.6 L2100.7 1264.7 L2068.9 1266.7 L2036.9 1266.7 L2005.1 1264.7 L1973.4 1260.6 L1942.1 1254.6 L1911.1 1246.6 L1880.8 1236.6 L1851.2 1224.7 L1822.3 1211 L1794.4 1195.5 L1767.6 1178.2 L1741.9 1159.3 L1717.4 1138.8 L1694.3 1116.7 L1672.6 1093.3 L1652.5 1068.5 L1634 1042.5 L1617.2 1015.4 L1602.1 987.2 L1588.8 958.2 L1577.4 928.4 L1567.9 897.9 L1560.4 866.8 L1554.9 835.4 L1551.3 803.7 L1549.8 771.8 L1550.3 739.9 L1552.9 708 L1557.4 676.4 L1563.9 645.2 L1572.4 614.4 L1582.9 584.2 L1595.2 554.8 L1609.4 526.2 L1625.4 498.5 L1643 471.9 L1662.4 446.5 L1683.3 422.4 L1705.7 399.7 L1729.5 378.4 L1754.6 358.6 L1780.9 340.5 L1808.3 324.1 L1836.6 309.5 L1865.9 296.7 L1895.9 285.8 L1926.5 276.8 L1957.7 269.7 L1989.2 264.7 L2021 261.7 L2052.9 260.6Z" fill="none" stroke="#000" stroke-width="3.33" stroke-linejoin="round"/>
<clipPath id="clip3"><circle cx="1393.7" cy="2023.8" r="494.6"/></clipPath>
<clipPath id="clip3b"><path d="M1393.7 1520.7 L1425.6 1521.7 L1457.4 1524.7 L1488.9 1529.7 L1520.1 1536.8 L1550.7 1545.8 L1580.7 1556.7 L1610 1569.5 L1638.3 1584.1 L1665.7 1600.5 L1692 1618.6 L1717.1 1638.4 L1740.9 1659.7 L1763.3 1682.4 L1784.2 1706.5 L1803.6 1731.9 L1821.2 1758.5 L1837.2 1786.2 L1851.4 1814.8 L1863.7 1844.2 L1874.2 1874.4 L1882.7 1905.2 L1889.2 1936.4 L1893.7 1968 L1896.3 1999.9 L1896.8 2031.8 L1895.3 2063.7 L1891.7 2095.4 L1886.2 2126.8 L1878.7 2157.9 L1869.2 2188.4 L1857.8 2218.2 L1844.5 2247.2 L1829.4 2275.4 L1812.6 2302.5 L1794.1 2328.5 L1774 2353.3 L1752.3 2376.7 L1729.2 2398.8 L1704.7 2419.3 L1679 2438.2 L1652.2 2455.5 L1624.3 2471 L1595.4 2484.7 L1565.8 2496.6 L1535.5 2506.6 L1504.5 2514.6 L1473.2 2520.6 L1441.5 2524.7 L1409.7 2526.7 L1377.7 2526.7 L1345.9 2524.7 L1314.2 2520.6 L1282.9 2514.6 L1251.9 2506.6 L1221.6 2496.6 L1192 2484.7 L1163.1 2471 L1135.2 2455.5 L1108.4 2438.2 L1082.7 2419.3 L1058.2 2398.8 L1035.1 2376.7 L1013.4 2353.3 L993.3 2328.5 L974.8 2302.5 L958 2275.4 L942.9 2247.2 L929.6 2218.2 L918.2 2188.4 L908.7 2157.9 L901.2 2126.8 L895.7 2095.4 L892.1 2063.7 L890.6 2031.8 L891.1 1999.9 L893.7 1968 L898.2 1936.4 L904.7 1905.2 L913.2 1874.4 L923.7 1844.2 L936 1814.8 L950.2 1786.2 L966.2 1758.5 L983.8 1731.9 L1003.2 1706.5 L1024.1 1682.4 L1046.5 1659.7 L1070.3 1638.4 L1095.4 1618.6 L1121.7 1600.5 L1149.1 1584.1 L1177.4 1569.5 L1206.7 1556.7 L1236.7 1545.8 L1267.3 1536.8 L1298.5 1529.7 L1330 1524.7 L1361.8 1521.7 L1393.7 1520.7Z"/></clipPath>
<g clip-path="url(#clip3)">
<circle cx="1393.7" cy="2023.8" r="494.6" fill="#ddefed"/>
<path d="M978.9 2024.1 L984.3 1995.3 L1024.2 1968.6 L1072.2 1947.3 L1093.5 1915.4 L1088.2 1878 L1056.2 1851.4 L1018.9 1840.7 L984.3 1827.4 L949.6 1808.8 L944.3 1776.8 L978.9 1760.8 L1029.6 1768.8 L1077.5 1739.5 L1104.2 1702.2 L1144.1 1680.9 L1184.1 1659.6 L1197.4 1627.6 L1224.1 1600.9 L1250.7 1574.3 L1277.4 1555.6 L1317.3 1547.6 L1362.6 1545 L1394.1 1553 L1394 1561 L1420.6 1571.6 L1447.3 1584.9 L1487.3 1600.9 L1527.2 1608.9 L1553.9 1614.3 L1580.5 1627.6 L1607.2 1648.9 L1633.8 1664.9 L1660.5 1680.9 L1687.1 1702.2 L1713.7 1723.5 L1740.4 1747.5 L1761.7 1774.1 L1777.7 1800.8 L1788.4 1827.4 L1793.7 1867.4 L1788.4 1907.4 L1788.4 1947.3 L1793.7 1987.3 L1793.7 2024.1 L1780.4 2024 L1780.4 2064 L1793.7 2103.9 L1788.4 2143.9 L1777.7 2183.9 L1767 2223.8 L1753.7 2250.5 L1740.4 2277.1 L1727.1 2303.8 L1700.4 2330.4 L1673.8 2357.1 L1633.8 2383.7 L1593.8 2397 L1553.9 2410.4 L1513.9 2437 L1473.9 2450.3 L1434 2455.7 L1394 2461 L1394.1 2477 L1357.3 2471.6 L1317.3 2463.6 L1277.4 2450.3 L1237.4 2437 L1210.7 2423.7 L1197.4 2397 L1184.1 2370.4 L1157.5 2357.1 L1130.8 2343.7 L1104.2 2338.4 L1064.2 2330.4 L1040.2 2290.5 L1024.2 2277.1 L997.6 2250.5 L970.9 2223.8 L944.3 2197.2 L928.3 2178.5 L931 2157.2 L944.3 2130.6 L962.9 2098.6 L984.3 2077.3 L992.3 2045.3 L997.6 2024Z" fill="#edf3f2"/>
<path d="M1051.7 1980.2 L1040.9 2012.6 L1040.8 2013 L1030 2051 L1029.8 2051.7 L1018.9 2106.1 L1018.8 2106.9 L1018.7 2107.8 L1018.8 2108.7 L1024.2 2163.1 L1024.3 2163.9 L1024.5 2164.7 L1024.8 2165.5 L1025.1 2166.2 L1025.5 2166.9 L1052.7 2210.4 L1053.2 2211.1 L1053.8 2211.8 L1054.4 2212.4 L1055.1 2213 L1093.2 2240.1 L1093.7 2240.5 L1094.4 2240.9 L1202.8 2295.1 L1256.8 2327.5 L1257.4 2327.8 L1258.1 2328.1 L1312.4 2349.9 L1313.2 2350.1 L1367.5 2366.4 L1368.4 2366.7 L1369.2 2366.8 L1423.6 2372.2 L1424.5 2372.3 L1478.8 2372.3 L1479.7 2372.2 L1480.6 2372.1 L1534.9 2361.2 L1535.7 2361 L1536.5 2360.8 L1537.2 2360.4 L1591.5 2333.3 L1645.9 2306.1 L1646.6 2305.7 L1647.2 2305.3 L1647.8 2304.8 L1691.3 2266.8 L1692.1 2265.9 L1730.2 2222.4 L1730.6 2221.9 L1731.1 2221.2 L1731.4 2220.5 L1758.6 2166.2 L1758.9 2165.5 L1759.2 2164.7 L1759.4 2163.9 L1770.3 2109.6 L1781.1 2055.2 L1781.3 2054.4 L1786.7 2000 L1786.7 1999.1 L1786.7 1998.2 L1781.3 1943.9 L1781.1 1943 L1770.3 1888.7 L1770 1887.7 L1769.6 1886.7 L1769.2 1885.8 L1736.5 1831.5 L1736 1830.7 L1703.4 1787.2 L1702.9 1786.6 L1702.3 1786 L1701.7 1785.4 L1701 1785 L1700.2 1784.6 L1657.8 1763.3 L1621.4 1732.1 L1594.8 1695 L1594.4 1694.4 L1593.9 1693.9 L1566.7 1666.7 L1566 1666.1 L1565.3 1665.5 L1564.5 1665.1 L1563.7 1664.7 L1509.3 1642.9 L1508.6 1642.7 L1454.2 1626.4 L1453.4 1626.2 L1399.1 1615.3 L1398.6 1615.2 L1360.5 1609.8 L1359.5 1609.7 L1358.5 1609.7 L1357.5 1609.9 L1303.1 1620.7 L1302.4 1620.9 L1301.8 1621.1 L1258.3 1637.4 L1257.5 1637.8 L1256.7 1638.2 L1256 1638.7 L1255.4 1639.2 L1254.8 1639.8 L1254.2 1640.5 L1221.6 1683.9 L1221.1 1684.8 L1220.6 1685.7 L1198.9 1734.4 L1177.8 1776.6 L1129.7 1830.1 L1129.2 1830.7 L1128.8 1831.4 L1128.4 1832.1 L1101.5 1885.8 L1063.8 1939.6 L1063.3 1940.5 L1062.9 1941.4 L1062.6 1942.3 L1051.7 1980.2Z" fill="#f5f3ec"/>
<path d="M1060.3 1982.8 L1071.2 1944.8 L1109.3 1890.4 L1136.4 1836.1 L1185.3 1781.7 L1207.1 1738.3 L1228.8 1689.3 L1261.4 1645.9 L1304.9 1629.6 L1359.3 1618.7 L1397.3 1624.1 L1451.7 1635 L1506 1651.3 L1560.3 1673 L1587.5 1700.2 L1614.7 1738.3 L1652.7 1770.9 L1696.2 1792.6 L1728.8 1836.1 L1761.4 1890.4 L1772.3 1944.8 L1777.7 1999.1 L1772.3 2053.5 L1761.4 2107.8 L1750.6 2162.2 L1723.4 2216.5 L1685.3 2260 L1641.9 2298 L1587.5 2325.2 L1533.2 2352.4 L1478.8 2363.3 L1424.5 2363.3 L1370.1 2357.8 L1315.8 2341.5 L1261.4 2319.8 L1207.1 2287.2 L1152.7 2260 L1098.4 2232.8 L1060.3 2205.7 L1033.2 2162.2 L1027.7 2107.8 L1038.6 2053.5 L1049.5 2015.4Z" fill="#f5efdc"/>
<path d="M1567.2 1707.5 L1607.2 1723.5 L1647.1 1750.2 L1687.1 1744.8 L1727.1 1739.5 L1737.7 1760.8 L1713.7 1774.1 L1673.8 1787.5 L1647.1 1800.8 L1628.5 1827.4 L1617.8 1862.1 L1596.5 1867.4 L1580.5 1827.4 L1569.9 1774.1Z" fill="#f5f3ec"/>
<path d="M1580.5 2258.5 L1620.5 2247.8 L1660.5 2237.2 L1692.4 2215.8 L1721.7 2194.5 L1740.4 2210.5 L1729.7 2242.5 L1700.4 2277.1 L1673.8 2311.8 L1633.8 2325.1 L1596.5 2319.8 L1577.9 2290.5Z" fill="#f5f3ec"/>
<path d="M1368 1686.2 L1330.6 1694.2 L1290.7 1707.5 L1250.7 1728.8 L1210.7 1760.8 L1192.1 1787.5 L1189.4 1814.1 L1197.4 1840.7 L1224.1 1856.7 L1264 1867.4 L1304 1856.7 L1344 1827.4 L1368 1814.1 L1394.1 1803.4 L1394 1792.8 L1434 1800.8 L1473.9 1814.1 L1500.6 1814.1 L1527.2 1800.8 L1548.5 1774.1 L1553.9 1734.2 L1543.2 1712.8 L1513.9 1694.2 L1473.9 1680.9 L1434 1672.9 L1394 1670.2Z" fill="#f6eacb"/>
<path d="M1612.5 1867.4 L1633.8 1862.1 L1660.5 1867.4 L1687.1 1880.7 L1713.7 1907.4 L1727.1 1947.3 L1740.4 1987.3 L1745.7 2024.1 L1735.1 2024 L1732.4 2064 L1727.1 2103.9 L1700.4 2143.9 L1673.8 2183.9 L1647.1 2210.5 L1620.5 2229.2 L1593.8 2210.5 L1612.5 2183.9 L1633.8 2143.9 L1649.8 2103.9 L1649.8 2064 L1644.5 2024 L1620.5 2024.1 L1615.2 1974 L1612.5 1920.7Z" fill="#f6eacb"/>
<path d="M1394 2237.2 L1447.3 2237.2 L1500.6 2237.2 L1540.5 2231.8 L1567.2 2237.2 L1553.9 2263.8 L1527.2 2290.5 L1513.9 2317.1 L1487.3 2343.7 L1460.6 2357.1 L1434 2357.1 L1394 2349.1 L1394.1 2349.1 L1344 2322.4 L1290.7 2303.8 L1237.4 2290.5 L1210.7 2271.8 L1184.1 2250.5 L1157.5 2223.8 L1130.8 2215.8 L1104.2 2223.8 L1080.2 2215.8 L1082.8 2197.2 L1117.5 2170.5 L1157.5 2130.6 L1157.5 2077.3 L1170.8 2024 L1170.8 2024.1 L1152.1 1995.3 L1130.8 1960.6 L1117.5 1936.7 L1144.1 1942 L1170.8 1960.6 L1197.4 1987.3 L1210.7 2024.1 L1210.7 2024 L1224.1 2064 L1242.7 2103.9 L1269.4 2138.6 L1304 2149.2 L1344 2146.6 L1394.1 2151.9 L1394 2151.9 L1415.3 2173.2 L1420.6 2197.2 L1410 2215.8 L1394 2226.5Z" fill="#f6eacb"/>
<path d="M1370.6 1728.8 L1330.6 1734.2 L1290.7 1747.5 L1250.7 1755.5 L1234.7 1774.1 L1237.4 1800.8 L1264 1822.1 L1304 1840.7 L1344 1827.4 L1370.6 1814.1 L1394.1 1808.8 L1394 1776.8 L1420.6 1782.1 L1447.3 1792.8 L1473.9 1808.8 L1505.9 1808.8 L1519.2 1787.5 L1519.2 1760.8 L1500.6 1734.2 L1460.6 1712.8 L1420.6 1704.9 L1394 1707.5Z" fill="#f2e2b8"/>
<path d="M1615.2 1888.7 L1633.8 1888.7 L1660.5 1899.4 L1681.8 1920.7 L1700.4 1960.6 L1713.7 2000.6 L1719.1 2024.1 L1700.4 2024 L1697.8 2064 L1687.1 2103.9 L1660.5 2135.9 L1633.8 2157.2 L1612.5 2173.2 L1607.2 2157.2 L1625.8 2130.6 L1641.8 2090.6 L1644.5 2050.6 L1641.8 2024 L1633.8 2024.1 L1623.2 1987.3 L1617.8 1947.3 L1615.2 1920.7Z" fill="#f2e2b8"/>
<path d="M1184.1 2024 L1173.4 2064 L1173.4 2103.9 L1189.4 2143.9 L1210.7 2183.9 L1250.7 2197.2 L1277.4 2210.5 L1290.7 2237.2 L1317.3 2263.8 L1357.3 2277.1 L1394.1 2290.5 L1394 2290.5 L1420.6 2279.8 L1460.6 2279.8 L1487.3 2269.1 L1473.9 2253.2 L1447.3 2247.8 L1420.6 2247.8 L1394 2242.5 L1394.1 2242.5 L1344 2210.5 L1317.3 2173.2 L1277.4 2162.6 L1250.7 2138.6 L1234.7 2103.9 L1218.7 2064 L1210.7 2024Z" fill="#f2e2b8"/>
<path d="M1373.3 1747.5 L1344 1750.2 L1312 1755.5 L1293.3 1774.1 L1296 1790.1 L1317.3 1800.8 L1344 1798.1 L1373.3 1787.5 L1394.1 1787.5 L1394 1787.5 L1420.6 1787.5 L1447.3 1792.8 L1473.9 1803.4 L1503.2 1808.8 L1500.6 1787.5 L1487.3 1779.5 L1460.6 1776.8 L1434 1766.1 L1410 1750.2 L1394 1739.5Z" fill="#ead59f"/>
<path d="M1633.8 1899.4 L1655.1 1904.7 L1671.1 1920.7 L1673.8 1936.7 L1660.5 1936.7 L1641.8 1920.7Z" fill="#ead59f"/>
<path d="M1671.1 1974 L1687.1 1974 L1695.1 1995.3 L1687.1 2003.3 L1673.8 1995.3Z" fill="#ead59f"/>
<path d="M1676.4 2037.3 L1692.4 2032 L1697.8 2050.6 L1692.4 2103.9 L1681.8 2109.3 L1676.4 2077.3Z" fill="#ead59f"/>
<path d="M1641.8 2125.3 L1660.5 2122.6 L1668.4 2143.9 L1660.5 2167.9 L1633.8 2189.2 L1612.5 2197.2 L1607.2 2183.9 L1628.5 2151.9Z" fill="#ead59f"/>
<path d="M1178.8 2050.6 L1192.1 2077.3 L1197.4 2117.3 L1224.1 2157.2 L1264 2181.2 L1277.4 2157.2 L1250.7 2143.9 L1237.4 2117.3 L1224.1 2077.3 L1210.7 2037.3 L1184.1 2024Z" fill="#ead59f"/>
<path d="M1365.3 2250.5 L1381.3 2237.2 L1394.1 2239.8 L1394.1 2285.1 L1370.6 2277.1 L1394 2285.1 L1434 2282.5 L1473.9 2285.1 L1487.3 2277.1 L1460.6 2263.8 L1434 2258.5 L1410 2255.8 L1394 2242.5Z" fill="#ead59f"/>
<path d="M1330.6 1755.5 L1357.3 1750.2 L1373.3 1755.5 L1373.3 1776.8 L1349.3 1776.8 L1333.3 1766.1Z" fill="#e3c989"/>
<path d="M1152.2 1867.9 L1155.8 1872.1 L1156.5 1881.4 L1153.7 1883.6 L1152.9 1890 L1154.4 1898.6 L1159.4 1902.9 L1165.8 1903.6 L1167.7 1907.1 L1167.2 1911.4 L1170.8 1919.3 L1176.5 1925 L1183.7 1926.4 L1192.2 1923.6 L1199.4 1923.6 L1210.8 1925.7 L1222.2 1930.7 L1236.5 1935.7 L1243.7 1941.4 L1246.5 1948.6 L1252.2 1955.7 L1255.1 1964.3 L1256.5 1974.3 L1259.4 1976.4 L1257.2 1984.3 L1255.8 1992.1 L1263.7 1989.3 L1267.9 1987.9 L1271.5 1990 L1271.5 1995.7 L1279.4 1999.3 L1290.8 1998.6 L1299.4 1992.9 L1310.8 1988.6 L1320.8 1984.3 L1332.2 1986.4 L1328.7 1980 L1326.5 1968.6 L1336.5 1962.9 L1332.9 1955.7 L1337.9 1945.7 L1345.1 1933.6 L1337.2 1924.3 L1329.4 1932.9 L1322.9 1925.7 L1320.1 1920 L1323.7 1911.4 L1325.1 1900 L1330.8 1892.1 L1340.8 1882.9 L1347.9 1870 L1348.7 1862.9 L1344.4 1858.6 L1344.4 1851.4 L1349.4 1845.7 L1354.4 1836.4 L1356.5 1826.4 L1363.7 1825 L1366.5 1828.6 L1368.7 1821.4 L1372.2 1820.7 L1373.7 1825.7 L1382.2 1823.6 L1392.2 1822.9 L1393.7 1827.1 L1399.4 1822.9 L1410.8 1817.1 L1417.9 1814.3 L1422.2 1810 L1428.7 1812.1 L1432.2 1822.1 L1436.5 1820.7 L1443.7 1815 L1448.7 1817.1 L1449.4 1820.7 L1455.8 1817.1 L1463.7 1819.3 L1471.5 1824.3 L1472.9 1832.1 L1477.9 1832.9 L1489.4 1837.9 L1497.9 1838.6 L1505.1 1837.1 L1512.2 1838.6 L1522.2 1831.4 L1525.1 1837.1 L1525.8 1843.6 L1528.7 1845 L1529.4 1854.3 L1533.7 1855 L1537.9 1851.4 L1547.9 1852.9 L1557.9 1856.4 L1568.7 1857.9 L1570.8 1862.1 L1580.8 1862.1 L1585.1 1866.4 L1589.4 1864.3 L1596.5 1865.7 L1605.1 1871.4 L1609.4 1881.4 L1605.1 1887.1 L1602.9 1897.1 L1603.7 1901.4 L1602.2 1911.4 L1606.5 1916.4 L1612.2 1917.1 L1612.9 1932.9 L1615.1 1938.6 L1606.5 1945 L1597.9 1947.1 L1590.8 1943.6 L1585.8 1945 L1587.2 1950 L1575.1 1950 L1571.5 1952.9 L1572.2 1960 L1577.9 1962.1 L1589.4 1962.9 L1601.5 1964.3 L1606.5 1974.3 L1610.8 1976.4 L1619.4 1977.9 L1629.4 1986.4 L1635.1 1990 L1637.9 1997.1 L1640.1 2008.6 L1642.2 2012.9 L1649.4 2015 L1649.4 2015 L1642.2 2018.6 L1639.4 2025.7 L1639.4 2038.6 L1636.5 2048.6 L1637.2 2057.1 L1635.1 2065 L1642.2 2071.4 L1650.8 2082.1 L1645.1 2087.1 L1632.2 2092.9 L1629.4 2098.6 L1629.4 2110 L1632.2 2120 L1631.5 2128.6 L1620.8 2131.4 L1617.9 2135.7 L1609.4 2139.3 L1604.4 2145.7 L1605.1 2154.3 L1606.5 2160 L1599.4 2167.1 L1596.5 2174.3 L1589.4 2180 L1586.5 2187.1 L1580.8 2195.7 L1575.8 2204.3 L1580.8 2211.4 L1576.5 2212.1 L1563.7 2205.7 L1559.4 2207.9 L1547.9 2218.6 L1533.7 2227.9 L1529.4 2224.3 L1525.1 2222.1 L1513.7 2222.1 L1499.4 2225 L1493.7 2227.1 L1493.7 2231.4 L1480.8 2227.1 L1470.8 2228.6 L1467.9 2225 L1457.9 2220.7 L1447.9 2222.1 L1436.5 2224.3 L1425.1 2220 L1422.9 2212.9 L1425.8 2195.7 L1429.4 2194.3 L1431.5 2187.1 L1434.4 2184.3 L1435.1 2172.9 L1435.1 2161.4 L1430.8 2151.4 L1426.5 2145 L1421.5 2144.3 L1420.8 2140 L1425.8 2135 L1430.1 2133.6 L1429.4 2124.3 L1427.2 2114.3 L1423.7 2110 L1419.4 2102.9 L1407.9 2092.9 L1405.1 2087.9 L1400.8 2082.9 L1397.2 2085 L1393.7 2080 L1396.5 2080.7 L1393.7 2080 L1386.5 2082.9 L1382.2 2087.9 L1377.9 2072.9 L1373.7 2068.6 L1369.4 2063.6 L1359.4 2066.4 L1362.2 2071.4 L1362.9 2077.1 L1363.7 2082.9 L1356.5 2095.7 L1355.1 2101.4 L1355.8 2110 L1349.4 2108.6 L1347.9 2104.3 L1336.5 2110 L1334.4 2115.7 L1336.5 2122.9 L1343.7 2128.6 L1345.1 2135.7 L1345.1 2147.1 L1342.2 2154.3 L1340.1 2148.6 L1332.2 2147.1 L1332.9 2141.4 L1327.9 2140.7 L1313.7 2144.3 L1310.1 2149.3 L1306.5 2153.6 L1302.2 2152.9 L1302.9 2148.6 L1295.1 2148.6 L1287.9 2145 L1275.1 2142.9 L1269.4 2137.1 L1262.2 2128.6 L1257.9 2122.1 L1253.7 2114.3 L1249.4 2105.7 L1243.7 2102.9 L1242.2 2098.6 L1239.4 2095.7 L1234.4 2094.3 L1239.4 2089.3 L1242.2 2085 L1237.9 2083.6 L1240.8 2077.1 L1242.9 2071.4 L1238.7 2065.7 L1237.2 2060 L1239.4 2052.1 L1233.7 2052.1 L1227.9 2055.7 L1227.9 2060.7 L1223.7 2062.1 L1212.2 2068.6 L1212.2 2058.6 L1213.7 2052.9 L1219.4 2047.1 L1219.4 2041.4 L1213.7 2031.4 L1215.1 2025.7 L1213.7 2022.1 L1206.5 2020.7 L1212.2 2017.1 L1213.7 2011.4 L1215.1 2008.6 L1216.5 2004.3 L1222.2 1997.1 L1216.5 1992.9 L1219.4 1990 L1222.2 1984.3 L1227.9 1981.4 L1225.1 1975.7 L1223.7 1968.6 L1225.1 1958.6 L1222.2 1951.4 L1216.5 1947.1 L1202.2 1944.3 L1190.8 1943.6 L1187.9 1942.1 L1180.8 1937.1 L1173.7 1932.9 L1166.5 1930 L1159.4 1918.6 L1153.7 1908.6 L1149.4 1900 L1148.7 1890 L1147.9 1872.9 L1152.2 1867.9Z" fill="#f5f3ec"/>
<path d="M1150 1864.3 L1180.4 1857.1 L1207.1 1860.7 L1233.9 1871.4 L1260.7 1883.9 L1296.4 1885.7 L1323.2 1875 L1337.5 1860.7 L1346.4 1850 L1353.6 1842.9 L1378.6 1833.9 L1378.6 2000 L1332.1 2000 L1260.7 1982.1 L1225 1946.4 L1189.3 1937.5 L1158.9 1919.6 L1148.2 1892.9Z" fill="#edf3f2"/>
<path d="M1391.9 1847 L1451.7 1868.7 L1506 1890.4 L1549.5 1923 L1565.8 1977.4 L1582.1 2031.7 L1576.7 2086.1 L1549.5 2135 L1511.4 2178.5 L1478.8 2189.3 L1457.1 2162.2 L1446.2 2107.8 L1424.5 2064.3 L1391.9 2042.6 L1370.1 2020.9 L1381 1972 L1391.9 1923Z" fill="#edf3f2"/>
<path d="M1239.7 2053.5 L1272.3 2031.7 L1315.8 2026.3 L1348.4 2042.6 L1353.8 2086.1 L1337.5 2107.8 L1315.8 2124.1 L1283.2 2135 L1261.4 2118.7 L1245.1 2086.1Z" fill="#edf3f2"/>
<path d="M1246.4 1937.5 L1260.7 1932.1 L1278.6 1930.4 L1296.4 1928.6 L1314.3 1928.6 L1328.6 1930.4 L1332.1 1946.4 L1330.4 1973.2 L1323.2 1987.5 L1296.4 2000 L1269.6 1996.4 L1257.1 1982.1 L1253.6 1964.3 L1248.2 1950Z" fill="#ddefed"/>
<path d="M1442 1507.7 L1442 1531.7 L1473.9 1547.6 L1513.9 1574.3 L1553.9 1590.3 L1593.8 1600.9 L1633.8 1608.9 L1660.5 1608.9 L1687.1 1627.6 L1713.7 1635.6 L1740.4 1632.9 L1727.1 1507.7Z" fill="#ccebe7"/>
<path d="M1799 1814.1 L1820.3 1808.8 L1847 1827.4 L1860.3 1867.4 L1847 1920.7 L1833.6 1907.4 L1809.7 1880.7 L1799 1840.7Z" fill="#ccebe7"/>
<path d="M1820.3 1934 L1847 1920.7 L1873.6 1947.3 L1900.3 2024.1 L1833.6 2024.1 L1820.3 1974Z" fill="#ccebe7"/>
<path d="M1820.3 2024 L1847 2024 L1900.3 2024 L1900.3 2397 L1793.7 2383.7 L1799 2343.7 L1809.7 2290.5 L1799 2237.2 L1809.7 2183.9 L1809.7 2130.6 L1815 2077.3Z" fill="#ccebe7"/>
<path d="M1567.2 2383.7 L1607.2 2370.4 L1660.5 2357.1 L1700.4 2343.7 L1740.4 2343.7 L1793.7 2370.4 L1847 2423.7 L1793.7 2503.6 L1660.5 2530.3 L1580.5 2530.3 L1564.5 2450.3Z" fill="#ccebe7"/>
<path d="M1394 2477 L1434 2471.6 L1473.9 2463.6 L1513.9 2463.6 L1540.5 2477 L1553.9 2530.3 L1394 2530.3Z" fill="#ccebe7"/>
<path d="M1184.1 2439.7 L1237.4 2445 L1290.7 2455.7 L1344 2455.7 L1394.1 2466.3 L1394.1 2543.6 L1184.1 2543.6 L1144.1 2503.6Z" fill="#ccebe7"/>
<path d="M877.7 2024 L970.9 2024 L965.6 2050.6 L944.3 2077.3 L925.6 2109.3 L907 2135.9 L877.7 2143.9Z" fill="#ccebe7"/>
<path d="M877.7 1920.7 L931 1947.3 L957.6 1974 L952.3 2024.1 L877.7 2024.1Z" fill="#ccebe7"/>
<path d="M1093.5 1648.9 L1130.8 1646.2 L1170.8 1646.2 L1184.1 1654.2 L1157.5 1670.2 L1130.8 1680.9 L1112.2 1707.5 L1098.8 1734.2 L1077.5 1760.8 L1040.2 1768.8 L1034.9 1755.5 L1064.2 1734.2 L1090.8 1694.2Z" fill="#ccebe7"/>
<path d="M1593.8 2423.7 L1620.5 2413 L1660.5 2407.7 L1687.1 2423.7 L1673.8 2461 L1633.8 2471.6 L1601.8 2471.6 L1593.8 2450.3Z" fill="#b4e2db"/>
<path d="M1455.3 2482.3 L1473.9 2477 L1500.6 2482.3 L1527.2 2498.3 L1532.6 2530.3 L1455.3 2530.3Z" fill="#b4e2db"/>
<path d="M1197.4 2477 L1224.1 2471.6 L1264 2477 L1290.7 2493 L1277.4 2530.3 L1197.4 2530.3Z" fill="#b4e2db"/>
<path d="M877.7 1942 L912.3 1952.7 L923 1974 L917.6 2024.1 L877.7 2024.1Z" fill="#b4e2db"/>
<path d="M1468.6 2498.3 L1481.9 2487.6 L1500.6 2487.6 L1516.6 2501 L1519.2 2530.3 L1468.6 2530.3Z" fill="#9ad8ce"/>
<path d="M1473.9 2503.6 L1487.3 2495.6 L1505.9 2498.3 L1513.9 2508.9 L1511.2 2530.3 L1473.9 2530.3Z" fill="#81cec2"/>
<path d="M929.8 1833.7 L944.1 1838.8 L954.3 1832.7 L962.4 1826.5 L968.6 1832.7 L970.6 1844.9 L980.8 1855.1 L984.9 1866.3 L993 1870.4 L1008.3 1870.4 L1023.7 1863.3 L1039 1857.1 L1054.3 1851 L1064.5 1830.6 L1054.3 1810.2 L1003.2 1794.9 L952.2 1794.9 L933.9 1815.3Z" fill="#edf3f2"/>
<path d="M929.8 1840.8 L942 1843.9 L954.3 1849 L967.5 1857.1 L982.8 1865.3 L993 1871.4 L1008.3 1871.4 L1023.7 1863.3 L1039 1857.1 L1049.2 1863.3 L1050.2 1881.6 L1054.3 1896.9 L1044.1 1917.3 L1023.7 1932.7 L1003.2 1948 L982.8 1958.2 L952.2 1963.3 L885.9 1963.3 L885.9 1881.6 L906.3 1861.2 L921.6 1845.9Z" fill="#ddefed"/>
<path d="M931.8 1844.9 L947.1 1851 L962.4 1859.2 L977.7 1867.3 L987.9 1873.5 L1003.2 1873.5 L1018.6 1869.4 L1033.9 1863.3 L1042 1871.4 L1044.1 1886.7 L1039 1902 L1023.7 1917.3 L1008.3 1927.6 L982.8 1937.8 L952.2 1944.9 L885.9 1949 L885.9 1891.8 L911.4 1866.3 L921.6 1857.1Z" fill="#ccebe7"/>
<path d="M929.8 1853.1 L942 1858.2 L957.3 1866.3 L972.6 1873.5 L987.9 1879.6 L1003.2 1880.6 L1013.4 1877.6 L1028.8 1873.5 L1035.9 1881.6 L1033.9 1896.9 L1018.6 1912.2 L1003.2 1922.4 L982.8 1930.6 L952.2 1935.7 L885.9 1939.8 L885.9 1902 L916.5 1871.4Z" fill="#b4e2db"/>
<path d="M927.7 1857.1 L942 1863.3 L957.3 1871.4 L972.6 1878.6 L987.9 1884.7 L1003.2 1886.7 L1013.4 1886.7 L1018.6 1893.9 L1008.3 1907.1 L993 1917.3 L972.6 1922.4 L947.1 1925.5 L885.9 1928.6 L885.9 1907.1 L919.6 1871.4Z" fill="#9ad8ce"/>
<path d="M925.7 1861.2 L942 1869.4 L957.3 1877.6 L972.6 1884.7 L987.9 1889.8 L1001.2 1891.8 L1008.3 1896.9 L998.1 1907.1 L982.8 1914.3 L962.4 1918.4 L936.9 1919.4 L885.9 1919.4 L885.9 1910.2 L921.6 1873.5Z" fill="#81cec2"/>
<path d="M924.7 1871.4 L936.9 1881.6 L952.2 1886.7 L962.4 1891.8 L970.6 1902 L962.4 1910.2 L947.1 1908.2 L931.8 1906.1 L917.5 1902 L914.5 1896.9 L919.6 1881.6Z" fill="#67bbb0"/>
</g>
<path d="M1393.7 2003.8 L1393.7 1524.8 L1362.4 1525.8 L1392.4 2003.8Z" fill="#fff"/>
<path d="M1152.2 1867.9 L1155.8 1872.1 L1156.5 1881.4 L1153.7 1883.6 L1152.9 1890 L1154.4 1898.6 L1159.4 1902.9 L1165.8 1903.6 L1167.7 1907.1 L1167.2 1911.4 L1170.8 1919.3 L1176.5 1925 L1183.7 1926.4 L1192.2 1923.6 L1199.4 1923.6 L1210.8 1925.7 L1222.2 1930.7 L1236.5 1935.7 L1243.7 1941.4 L1246.5 1948.6 L1252.2 1955.7 L1255.1 1964.3 L1256.5 1974.3 L1259.4 1976.4 L1257.2 1984.3 L1255.8 1992.1 L1263.7 1989.3 L1267.9 1987.9 L1271.5 1990 L1271.5 1995.7 L1279.4 1999.3 L1290.8 1998.6 L1299.4 1992.9 L1310.8 1988.6 L1320.8 1984.3 L1332.2 1986.4 L1328.7 1980 L1326.5 1968.6 L1336.5 1962.9 L1332.9 1955.7 L1337.9 1945.7 L1345.1 1933.6 L1337.2 1924.3 L1329.4 1932.9 L1322.9 1925.7 L1320.1 1920 L1323.7 1911.4 L1325.1 1900 L1330.8 1892.1 L1340.8 1882.9 L1347.9 1870 L1348.7 1862.9 L1344.4 1858.6 L1344.4 1851.4 L1349.4 1845.7 L1354.4 1836.4 L1356.5 1826.4 L1363.7 1825 L1366.5 1828.6 L1368.7 1821.4 L1372.2 1820.7 L1373.7 1825.7 L1382.2 1823.6 L1392.2 1822.9 L1393.7 1827.1 L1399.4 1822.9 L1410.8 1817.1 L1417.9 1814.3 L1422.2 1810 L1428.7 1812.1 L1432.2 1822.1 L1436.5 1820.7 L1443.7 1815 L1448.7 1817.1 L1449.4 1820.7 L1455.8 1817.1 L1463.7 1819.3 L1471.5 1824.3 L1472.9 1832.1 L1477.9 1832.9 L1489.4 1837.9 L1497.9 1838.6 L1505.1 1837.1 L1512.2 1838.6 L1522.2 1831.4 L1525.1 1837.1 L1525.8 1843.6 L1528.7 1845 L1529.4 1854.3 L1533.7 1855 L1537.9 1851.4 L1547.9 1852.9 L1557.9 1856.4 L1568.7 1857.9 L1570.8 1862.1 L1580.8 1862.1 L1585.1 1866.4 L1589.4 1864.3 L1596.5 1865.7 L1605.1 1871.4 L1609.4 1881.4 L1605.1 1887.1 L1602.9 1897.1 L1603.7 1901.4 L1602.2 1911.4 L1606.5 1916.4 L1612.2 1917.1 L1612.9 1932.9 L1615.1 1938.6 L1606.5 1945 L1597.9 1947.1 L1590.8 1943.6 L1585.8 1945 L1587.2 1950 L1575.1 1950 L1571.5 1952.9 L1572.2 1960 L1577.9 1962.1 L1589.4 1962.9 L1601.5 1964.3 L1606.5 1974.3 L1610.8 1976.4 L1619.4 1977.9 L1629.4 1986.4 L1635.1 1990 L1637.9 1997.1 L1640.1 2008.6 L1642.2 2012.9 L1649.4 2015 L1649.4 2015 L1642.2 2018.6 L1639.4 2025.7 L1639.4 2038.6 L1636.5 2048.6 L1637.2 2057.1 L1635.1 2065 L1642.2 2071.4 L1650.8 2082.1 L1645.1 2087.1 L1632.2 2092.9 L1629.4 2098.6 L1629.4 2110 L1632.2 2120 L1631.5 2128.6 L1620.8 2131.4 L1617.9 2135.7 L1609.4 2139.3 L1604.4 2145.7 L1605.1 2154.3 L1606.5 2160 L1599.4 2167.1 L1596.5 2174.3 L1589.4 2180 L1586.5 2187.1 L1580.8 2195.7 L1575.8 2204.3 L1580.8 2211.4 L1576.5 2212.1 L1563.7 2205.7 L1559.4 2207.9 L1547.9 2218.6 L1533.7 2227.9 L1529.4 2224.3 L1525.1 2222.1 L1513.7 2222.1 L1499.4 2225 L1493.7 2227.1 L1493.7 2231.4 L1480.8 2227.1 L1470.8 2228.6 L1467.9 2225 L1457.9 2220.7 L1447.9 2222.1 L1436.5 2224.3 L1425.1 2220 L1422.9 2212.9 L1425.8 2195.7 L1429.4 2194.3 L1431.5 2187.1 L1434.4 2184.3 L1435.1 2172.9 L1435.1 2161.4 L1430.8 2151.4 L1426.5 2145 L1421.5 2144.3 L1420.8 2140 L1425.8 2135 L1430.1 2133.6 L1429.4 2124.3 L1427.2 2114.3 L1423.7 2110 L1419.4 2102.9 L1407.9 2092.9 L1405.1 2087.9 L1400.8 2082.9 L1397.2 2085 L1393.7 2080 L1396.5 2080.7 L1393.7 2080 L1386.5 2082.9 L1382.2 2087.9 L1377.9 2072.9 L1373.7 2068.6 L1369.4 2063.6 L1359.4 2066.4 L1362.2 2071.4 L1362.9 2077.1 L1363.7 2082.9 L1356.5 2095.7 L1355.1 2101.4 L1355.8 2110 L1349.4 2108.6 L1347.9 2104.3 L1336.5 2110 L1334.4 2115.7 L1336.5 2122.9 L1343.7 2128.6 L1345.1 2135.7 L1345.1 2147.1 L1342.2 2154.3 L1340.1 2148.6 L1332.2 2147.1 L1332.9 2141.4 L1327.9 2140.7 L1313.7 2144.3 L1310.1 2149.3 L1306.5 2153.6 L1302.2 2152.9 L1302.9 2148.6 L1295.1 2148.6 L1287.9 2145 L1275.1 2142.9 L1269.4 2137.1 L1262.2 2128.6 L1257.9 2122.1 L1253.7 2114.3 L1249.4 2105.7 L1243.7 2102.9 L1242.2 2098.6 L1239.4 2095.7 L1234.4 2094.3 L1239.4 2089.3 L1242.2 2085 L1237.9 2083.6 L1240.8 2077.1 L1242.9 2071.4 L1238.7 2065.7 L1237.2 2060 L1239.4 2052.1 L1233.7 2052.1 L1227.9 2055.7 L1227.9 2060.7 L1223.7 2062.1 L1212.2 2068.6 L1212.2 2058.6 L1213.7 2052.9 L1219.4 2047.1 L1219.4 2041.4 L1213.7 2031.4 L1215.1 2025.7 L1213.7 2022.1 L1206.5 2020.7 L1212.2 2017.1 L1213.7 2011.4 L1215.1 2008.6 L1216.5 2004.3 L1222.2 1997.1 L1216.5 1992.9 L1219.4 1990 L1222.2 1984.3 L1227.9 1981.4 L1225.1 1975.7 L1223.7 1968.6 L1225.1 1958.6 L1222.2 1951.4 L1216.5 1947.1 L1202.2 1944.3 L1190.8 1943.6 L1187.9 1942.1 L1180.8 1937.1 L1173.7 1932.9 L1166.5 1930 L1159.4 1918.6 L1153.7 1908.6 L1149.4 1900 L1148.7 1890 L1147.9 1872.9 L1152.2 1867.9" fill="none" stroke="#000" stroke-width="4.17" stroke-linejoin="round" stroke-linecap="round" clip-path="url(#clip3b)"/>
<path d="M1179.4 1947.1 L1180.8 1952.9 L1190.8 1957.1 L1199.4 1961.4 L1200.8 1970 L1206.5 1974.3 L1212.2 1971.4 L1210.8 1964.3 L1215.1 1965.7 L1216.5 1955.7 L1213.7 1950 L1205.1 1947.1 L1190.8 1945.7 L1179.4 1947.1" fill="none" stroke="#000" stroke-width="4.17" stroke-linejoin="round" stroke-linecap="round" clip-path="url(#clip3b)"/>
<path d="M1298.7 1934.3 L1303.7 1932.9 L1310.8 1937.1 L1320.8 1945.7 L1321.5 1958.6 L1317.9 1965.7 L1313.7 1966.4 L1309.4 1960 L1307.9 1952.9 L1302.2 1944.3 L1297.9 1938.6 L1298.7 1934.3" fill="none" stroke="#000" stroke-width="4.17" stroke-linejoin="round" stroke-linecap="round" clip-path="url(#clip3b)"/>
<path d="M1296.5 1968.6 L1302.2 1970.7 L1310.8 1975.7 L1306.5 1981.4 L1299.4 1982.9 L1300.8 1975.7 L1296.5 1968.6" fill="none" stroke="#000" stroke-width="4.17" stroke-linejoin="round" stroke-linecap="round" clip-path="url(#clip3b)"/>
<path d="M1200.8 2045.7 L1207.9 2043.6 L1208.7 2062.9 L1202.2 2065.7 L1200.8 2052.9 L1200.8 2045.7" fill="none" stroke="#000" stroke-width="4.17" stroke-linejoin="round" stroke-linecap="round" clip-path="url(#clip3b)"/>
<path d="M1237.9 2108.6 L1247.9 2108.6 L1249.4 2112.9 L1245.1 2120 L1242.2 2120 L1240.8 2110 L1237.9 2108.6" fill="none" stroke="#000" stroke-width="4.17" stroke-linejoin="round" stroke-linecap="round" clip-path="url(#clip3b)"/>
<path d="M1249.4 2121.4 L1252.2 2124.3 L1252.9 2131.4 L1249.4 2131.4 L1248.7 2124.3 L1249.4 2121.4" fill="none" stroke="#000" stroke-width="4.17" stroke-linejoin="round" stroke-linecap="round" clip-path="url(#clip3b)"/>
<path d="M1351.5 2128.6 L1359.4 2128.6 L1360.1 2138.6 L1356.5 2144.3 L1352.2 2138.6 L1351.5 2128.6" fill="none" stroke="#000" stroke-width="4.17" stroke-linejoin="round" stroke-linecap="round" clip-path="url(#clip3b)"/>
<path d="M928.9 1814.9 L933 1823.2 L934.4 1829.6 L938 1833.3 L943.6 1837.9 L953.7 1834.2 L960.1 1827.8 L968.3 1834.2 L970.2 1844.3 L972.9 1848.9 L981.2 1856.2 L983 1860.8 L987.6 1868.2 L993.1 1870 L1001.4 1870.9 L1008.7 1869.5 L1008.3 1873.2 L1026.2 1872.3 L1033.5 1868.6 L1042.7 1860.3 L1046.4 1865.4 L1044.1 1872.3 L1040 1873.7 L1043.6 1877.3 L1044.6 1883.8 L1040.9 1888.4 L1035.4 1892 L1031.7 1897.5 L1024.4 1903 L1015.2 1908.1 L1006 1911.8 L1000.5 1914.5" fill="none" stroke="#000" stroke-width="4.17" stroke-linejoin="round" stroke-linecap="round" clip-path="url(#clip3b)"/>
<path d="M905 1888.4 L909.6 1890.2 L916.9 1892.9 L926.1 1904 L932.5 1892.9 L939 1902.1 L949.1 1909.5 L969.3 1914.1 L978.4 1912.2 L984 1915.9 L992.2 1915.9 L1000.5 1910.4 L1010.6 1904 L1020.7 1896.6 L1015.2 1891.1 L1007.8 1889.3 L1006 1877.3 L1008.7 1872.7" fill="none" stroke="#000" stroke-width="4.17" stroke-linejoin="round" stroke-linecap="round" clip-path="url(#clip3b)"/>
<path d="M1027.1 1799.7 L1035.4 1797 L1038.1 1802 L1036.3 1812.1 L1032.6 1813.5 L1032.2 1820.4 L1026.2 1821.8 L1023.4 1810.3 L1027.1 1807.1 L1028 1801.1 L1027.1 1799.7" fill="none" stroke="#000" stroke-width="4.17" stroke-linejoin="round" stroke-linecap="round" clip-path="url(#clip3b)"/>
<path d="M1807.9 1861.8 L1821.2 1857.9 L1823.3 1860 L1821.9 1865.7 L1822.9 1873.2 L1819.4 1874.3 L1812.9 1874.3 L1807.9 1862.1" fill="none" stroke="#000" stroke-width="4.17" stroke-linejoin="round" stroke-linecap="round" clip-path="url(#clip3b)"/>
<path d="M1470.4 2526.7 L1471.6 2521 L1473.7 2510.4 L1482.6 2498.6 L1490 2497.3 L1496.5 2500.6 L1505.9 2499.4 L1508.4 2503.1 L1507.1 2514.5 L1506.7 2521" fill="none" stroke="#000" stroke-width="4.17" stroke-linejoin="round" stroke-linecap="round" clip-path="url(#clip3b)"/>
<path d="M1393.7 1520.7 L1425.6 1521.7 L1457.4 1524.7 L1488.9 1529.7 L1520.1 1536.8 L1550.7 1545.8 L1580.7 1556.7 L1610 1569.5 L1638.3 1584.1 L1665.7 1600.5 L1692 1618.6 L1717.1 1638.4 L1740.9 1659.7 L1763.3 1682.4 L1784.2 1706.5 L1803.6 1731.9 L1821.2 1758.5 L1837.2 1786.2 L1851.4 1814.8 L1863.7 1844.2 L1874.2 1874.4 L1882.7 1905.2 L1889.2 1936.4 L1893.7 1968 L1896.3 1999.9 L1896.8 2031.8 L1895.3 2063.7 L1891.7 2095.4 L1886.2 2126.8 L1878.7 2157.9 L1869.2 2188.4 L1857.8 2218.2 L1844.5 2247.2 L1829.4 2275.4 L1812.6 2302.5 L1794.1 2328.5 L1774 2353.3 L1752.3 2376.7 L1729.2 2398.8 L1704.7 2419.3 L1679 2438.2 L1652.2 2455.5 L1624.3 2471 L1595.4 2484.7 L1565.8 2496.6 L1535.5 2506.6 L1504.5 2514.6 L1473.2 2520.6 L1441.5 2524.7 L1409.7 2526.7 L1377.7 2526.7 L1345.9 2524.7 L1314.2 2520.6 L1282.9 2514.6 L1251.9 2506.6 L1221.6 2496.6 L1192 2484.7 L1163.1 2471 L1135.2 2455.5 L1108.4 2438.2 L1082.7 2419.3 L1058.2 2398.8 L1035.1 2376.7 L1013.4 2353.3 L993.3 2328.5 L974.8 2302.5 L958 2275.4 L942.9 2247.2 L929.6 2218.2 L918.2 2188.4 L908.7 2157.9 L901.2 2126.8 L895.7 2095.4 L892.1 2063.7 L890.6 2031.8 L891.1 1999.9 L893.7 1968 L898.2 1936.4 L904.7 1905.2 L913.2 1874.4 L923.7 1844.2 L936 1814.8 L950.2 1786.2 L966.2 1758.5 L983.8 1731.9 L1003.2 1706.5 L1024.1 1682.4 L1046.5 1659.7 L1070.3 1638.4 L1095.4 1618.6 L1121.7 1600.5 L1149.1 1584.1 L1177.4 1569.5 L1206.7 1556.7 L1236.7 1545.8 L1267.3 1536.8 L1298.5 1529.7 L1330 1524.7 L1361.8 1521.7 L1393.7 1520.7Z" fill="none" stroke="#000" stroke-width="3.33" stroke-linejoin="round"/>
<rect x="2607.6" y="1174.4" width="50.2" height="43.8" fill="#fff2e6"/>
<rect x="2607.6" y="1131.3" width="50.2" height="43.8" fill="#feeddb"/>
<rect x="2607.6" y="1088.1" width="50.2" height="43.8" fill="#fee7d0"/>
<rect x="2607.6" y="1045" width="50.2" height="43.8" fill="#fedfc0"/>
<rect x="2607.6" y="1001.8" width="50.2" height="43.8" fill="#fdd7af"/>
<rect x="2607.6" y="958.7" width="50.2" height="43.8" fill="#fdcd9c"/>
<rect x="2607.6" y="915.5" width="50.2" height="43.8" fill="#fdc088"/>
<rect x="2607.6" y="872.4" width="50.2" height="43.8" fill="#fdb373"/>
<rect x="2607.6" y="829.2" width="50.2" height="43.8" fill="#fda660"/>
<rect x="2607.6" y="786.1" width="50.2" height="43.8" fill="#fd9a4e"/>
<rect x="2607.6" y="742.9" width="50.2" height="43.8" fill="#fd8c3b"/>
<rect x="2607.6" y="699.8" width="50.2" height="43.8" fill="#f87f2c"/>
<rect x="2607.6" y="656.6" width="50.2" height="43.8" fill="#f4711c"/>
<rect x="2607.6" y="613.5" width="50.2" height="43.8" fill="#ee6410"/>
<rect x="2607.6" y="570.3" width="50.2" height="43.8" fill="#e4580a"/>
<rect x="2607.6" y="527.2" width="50.2" height="43.8" fill="#db4b03"/>
<rect x="2607.6" y="484" width="50.2" height="43.8" fill="#c94202"/>
<rect x="2607.6" y="440.9" width="50.2" height="43.8" fill="#b63c02"/>
<rect x="2607.6" y="397.7" width="50.2" height="43.8" fill="#a43503"/>
<rect x="2607.6" y="354.6" width="50.2" height="43.8" fill="#952f03"/>
<rect x="2607.6" y="311.4" width="50.2" height="43.8" fill="#862a04"/>
<rect x="2607.6" y="311.4" width="50.2" height="906.2" fill="none" stroke="#000" stroke-width="3.33"/>
<line x1="2657.8" y1="1131.3" x2="2672.4" y2="1131.3" stroke="#000" stroke-width="3.33"/>
<text x="2687" y="1146.3" class="t10">0</text>
<line x1="2657.8" y1="1001.8" x2="2672.4" y2="1001.8" stroke="#000" stroke-width="3.33"/>
<text x="2687" y="1016.8" class="t10">15</text>
<line x1="2657.8" y1="872.4" x2="2672.4" y2="872.4" stroke="#000" stroke-width="3.33"/>
<text x="2687" y="887.4" class="t10">30</text>
<line x1="2657.8" y1="742.9" x2="2672.4" y2="742.9" stroke="#000" stroke-width="3.33"/>
<text x="2687" y="757.9" class="t10">45</text>
<line x1="2657.8" y1="613.5" x2="2672.4" y2="613.5" stroke="#000" stroke-width="3.33"/>
<text x="2687" y="628.5" class="t10">60</text>
<line x1="2657.8" y1="484" x2="2672.4" y2="484" stroke="#000" stroke-width="3.33"/>
<text x="2687" y="499" class="t10">75</text>
<line x1="2657.8" y1="354.6" x2="2672.4" y2="354.6" stroke="#000" stroke-width="3.33"/>
<text x="2687" y="369.6" class="t10">90</text>
<rect x="1947.7" y="2446" width="50.3" height="31.8" fill="#5d3506"/>
<rect x="1947.7" y="2414.7" width="50.3" height="31.8" fill="#6e4007"/>
<rect x="1947.7" y="2383.5" width="50.3" height="31.8" fill="#824b09"/>
<rect x="1947.7" y="2352.3" width="50.3" height="31.8" fill="#93580f"/>
<rect x="1947.7" y="2321" width="50.3" height="31.8" fill="#a5691b"/>
<rect x="1947.7" y="2289.8" width="50.3" height="31.8" fill="#b57826"/>
<rect x="1947.7" y="2258.6" width="50.3" height="31.8" fill="#c48b3a"/>
<rect x="1947.7" y="2227.3" width="50.3" height="31.8" fill="#cfa256"/>
<rect x="1947.7" y="2196.1" width="50.3" height="31.8" fill="#d9b76f"/>
<rect x="1947.7" y="2164.9" width="50.3" height="31.8" fill="#e3c989"/>
<rect x="1947.7" y="2133.6" width="50.3" height="31.8" fill="#ead59f"/>
<rect x="1947.7" y="2102.4" width="50.3" height="31.8" fill="#f2e2b8"/>
<rect x="1947.7" y="2071.2" width="50.3" height="31.8" fill="#f6eacb"/>
<rect x="1947.7" y="2039.9" width="50.3" height="31.8" fill="#f5efdc"/>
<rect x="1947.7" y="2008.7" width="50.3" height="31.8" fill="#f5f3ec"/>
<rect x="1947.7" y="1977.4" width="50.3" height="31.8" fill="#edf3f2"/>
<rect x="1947.7" y="1946.2" width="50.3" height="31.8" fill="#ddefed"/>
<rect x="1947.7" y="1915" width="50.3" height="31.8" fill="#ccebe7"/>
<rect x="1947.7" y="1883.7" width="50.3" height="31.8" fill="#b4e2db"/>
<rect x="1947.7" y="1852.5" width="50.3" height="31.8" fill="#9ad8ce"/>
<rect x="1947.7" y="1821.3" width="50.3" height="31.8" fill="#81cec2"/>
<rect x="1947.7" y="1790" width="50.3" height="31.8" fill="#67bbb0"/>
<rect x="1947.7" y="1758.8" width="50.3" height="31.8" fill="#4da89f"/>
<rect x="1947.7" y="1727.6" width="50.3" height="31.8" fill="#33958d"/>
<rect x="1947.7" y="1696.3" width="50.3" height="31.8" fill="#21847c"/>
<rect x="1947.7" y="1665.1" width="50.3" height="31.8" fill="#0c7169"/>
<rect x="1947.7" y="1633.9" width="50.3" height="31.8" fill="#016058"/>
<rect x="1947.7" y="1602.6" width="50.3" height="31.8" fill="#015147"/>
<rect x="1947.7" y="1571.4" width="50.3" height="31.8" fill="#004337"/>
<rect x="1947.7" y="1571.4" width="50.3" height="905.8" fill="none" stroke="#000" stroke-width="3.33"/>
<line x1="1998" y1="2477.2" x2="2012.6" y2="2477.2" stroke="#000" stroke-width="3.33"/>
<text x="2026.7" y="2492.2" class="t10">−15</text>
<line x1="1998" y1="2383.5" x2="2012.6" y2="2383.5" stroke="#000" stroke-width="3.33"/>
<text x="2026.7" y="2398.5" class="t10">−12</text>
<line x1="1998" y1="2289.8" x2="2012.6" y2="2289.8" stroke="#000" stroke-width="3.33"/>
<text x="2026.7" y="2304.8" class="t10">−9</text>
<line x1="1998" y1="2196.1" x2="2012.6" y2="2196.1" stroke="#000" stroke-width="3.33"/>
<text x="2026.7" y="2211.1" class="t10">−6</text>
<line x1="1998" y1="2102.4" x2="2012.6" y2="2102.4" stroke="#000" stroke-width="3.33"/>
<text x="2026.7" y="2117.4" class="t10">−3</text>
<line x1="1998" y1="2008.7" x2="2012.6" y2="2008.7" stroke="#000" stroke-width="3.33"/>
<text x="2026.7" y="2023.7" class="t10">0</text>
<line x1="1998" y1="1915" x2="2012.6" y2="1915" stroke="#000" stroke-width="3.33"/>
<text x="2026.7" y="1930" class="t10">3</text>
<line x1="1998" y1="1821.3" x2="2012.6" y2="1821.3" stroke="#000" stroke-width="3.33"/>
<text x="2026.7" y="1836.3" class="t10">6</text>
<line x1="1998" y1="1727.6" x2="2012.6" y2="1727.6" stroke="#000" stroke-width="3.33"/>
<text x="2026.7" y="1742.6" class="t10">9</text>
<line x1="1998" y1="1633.9" x2="2012.6" y2="1633.9" stroke="#000" stroke-width="3.33"/>
<text x="2026.7" y="1648.9" class="t10">12</text>
</svg>
</body></html>
